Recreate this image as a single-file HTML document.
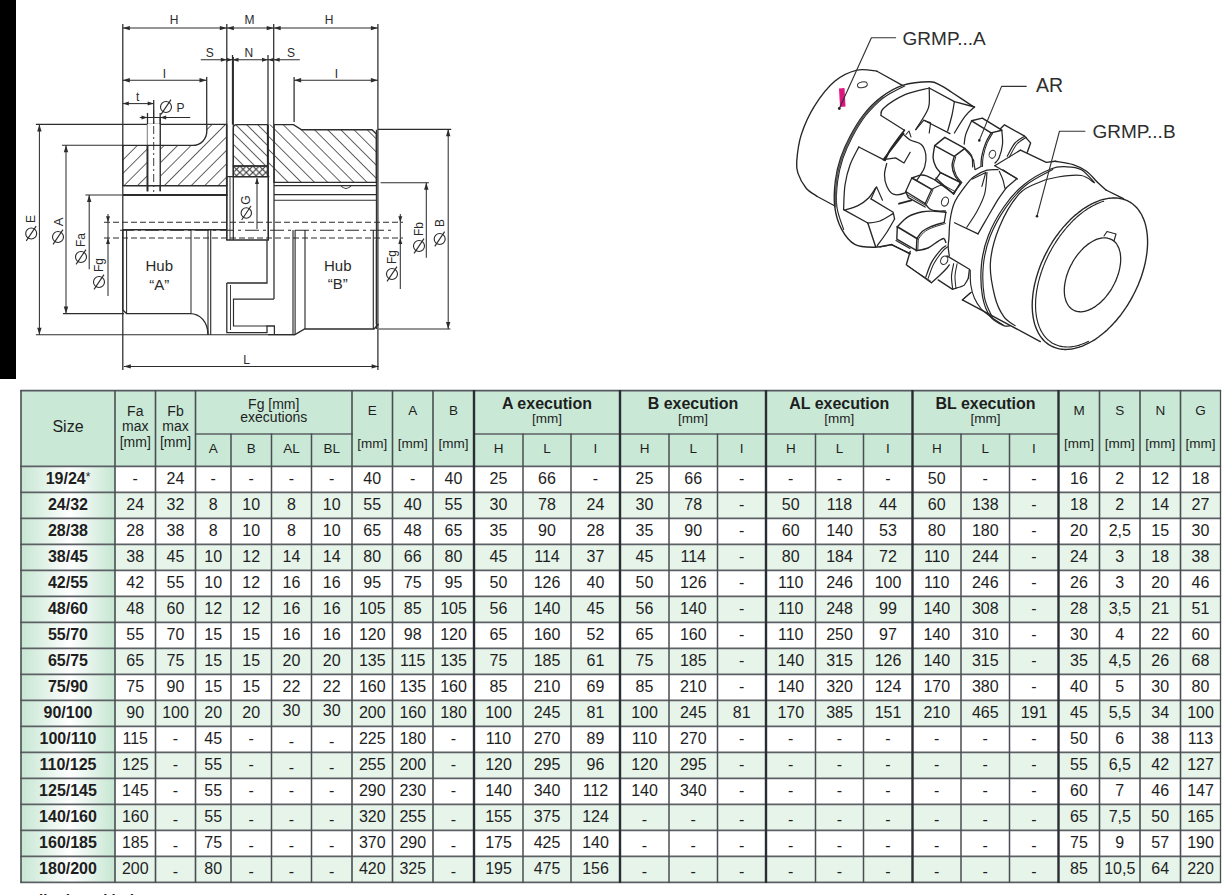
<!DOCTYPE html>
<html><head><meta charset="utf-8">
<style>
html,body{margin:0;padding:0;background:#fff;}
body{width:1230px;height:895px;position:relative;overflow:hidden;font-family:"Liberation Sans",sans-serif;color:#1e1e1e;}
.c,.l,.t,.b,.h,.hs,.h3,.h2,.hsub,.hmm,.hx{position:absolute;}
.t,.b{text-align:center;font-size:16px;white-space:nowrap;}
.b{font-weight:bold;}
.dash{display:inline-block;}
.ast{font-size:12px;position:relative;top:-3px;font-weight:normal;}
.low{position:relative;top:3px;}
.hs{text-align:center;font-size:16px;}
.h3{text-align:center;font-size:14px;line-height:15.7px;}
.h2{text-align:center;font-size:14px;line-height:13.5px;}
.hsub{text-align:center;font-size:13.5px;line-height:16px;}
.hmm{text-align:center;font-size:13.5px;line-height:16px;}
.hx{text-align:center;font-size:16px;line-height:14.5px;}
.hx .sm{font-size:13.5px;}
.blk{position:absolute;left:0;top:0;width:16px;height:379px;background:#000;}
svg{position:absolute;left:0;top:0;}
</style></head><body>
<div class="blk"></div>

<svg width="480" height="380" viewBox="0 0 480 380" style="position:absolute;left:0;top:0" font-family="Liberation Sans, sans-serif">
<defs>
<pattern id="hA" patternUnits="userSpaceOnUse" width="9.5" height="10" patternTransform="rotate(45)"><line x1="0" y1="0" x2="0" y2="10" stroke="#2a2a2a" stroke-width="1.45"/></pattern>
<pattern id="hB" patternUnits="userSpaceOnUse" width="9.3" height="10" patternTransform="rotate(-45)"><line x1="0" y1="0" x2="0" y2="10" stroke="#2a2a2a" stroke-width="1.45"/></pattern>
<pattern id="hS" patternUnits="userSpaceOnUse" width="7.8" height="10" patternTransform="rotate(-45)"><line x1="0" y1="0" x2="0" y2="10" stroke="#2a2a2a" stroke-width="1.45"/></pattern>
<pattern id="hX" patternUnits="userSpaceOnUse" width="6.5" height="6.5" x="233.3" y="166"><path d="M0,0 L6.5,6.5 M6.5,0 L0,6.5" stroke="#333" stroke-width="1.1"/></pattern>
</defs>
<line x1="122.8" y1="24" x2="122.8" y2="370" stroke="#2c2c2c" stroke-width="1.26" />
<line x1="226.8" y1="24" x2="226.8" y2="240" stroke="#2c2c2c" stroke-width="1.26" />
<line x1="273.7" y1="24" x2="273.7" y2="124.6" stroke="#2c2c2c" stroke-width="1.26" />
<line x1="377.9" y1="24" x2="377.9" y2="370" stroke="#2c2c2c" stroke-width="1.26" />
<line x1="122.8" y1="28.1" x2="377.9" y2="28.1" stroke="#2c2c2c" stroke-width="1.03" />
<polygon points="122.8,28.1 129.8,25.900000000000002 129.8,30.3" fill="#2c2c2c"/>
<polygon points="226.8,28.1 219.8,25.900000000000002 219.8,30.3" fill="#2c2c2c"/>
<polygon points="226.8,28.1 233.8,25.900000000000002 233.8,30.3" fill="#2c2c2c"/>
<polygon points="273.7,28.1 266.7,25.900000000000002 266.7,30.3" fill="#2c2c2c"/>
<polygon points="273.7,28.1 280.7,25.900000000000002 280.7,30.3" fill="#2c2c2c"/>
<polygon points="377.9,28.1 370.9,25.900000000000002 370.9,30.3" fill="#2c2c2c"/>
<text x="174" y="20" font-size="12" text-anchor="middle" dominant-baseline="central" fill="#2a2a2a" >H</text>
<text x="249.6" y="20" font-size="12" text-anchor="middle" dominant-baseline="central" fill="#2a2a2a" >M</text>
<text x="329" y="20" font-size="12" text-anchor="middle" dominant-baseline="central" fill="#2a2a2a" >H</text>
<line x1="200.8" y1="59.7" x2="299.8" y2="59.7" stroke="#2c2c2c" stroke-width="1.03" />
<line x1="232.5" y1="55" x2="232.5" y2="124.6" stroke="#2c2c2c" stroke-width="1.26" />
<line x1="268" y1="55" x2="268" y2="124.6" stroke="#2c2c2c" stroke-width="1.26" />
<polygon points="226.8,59.7 220.8,57.7 220.8,61.7" fill="#2c2c2c"/>
<polygon points="232.5,59.7 226.5,57.7 226.5,61.7" fill="#2c2c2c"/>
<polygon points="232.5,59.7 238.5,57.7 238.5,61.7" fill="#2c2c2c"/>
<polygon points="268,59.7 262,57.7 262,61.7" fill="#2c2c2c"/>
<polygon points="268,59.7 274,57.7 274,61.7" fill="#2c2c2c"/>
<polygon points="273.7,59.7 279.7,57.7 279.7,61.7" fill="#2c2c2c"/>
<text x="209.8" y="52.5" font-size="12" text-anchor="middle" dominant-baseline="central" fill="#2a2a2a" >S</text>
<text x="248.8" y="52.5" font-size="12" text-anchor="middle" dominant-baseline="central" fill="#2a2a2a" >N</text>
<text x="291" y="52.5" font-size="12" text-anchor="middle" dominant-baseline="central" fill="#2a2a2a" >S</text>
<line x1="122.8" y1="80.2" x2="206.5" y2="80.2" stroke="#2c2c2c" stroke-width="1.03" />
<line x1="206.7" y1="77" x2="206.7" y2="125" stroke="#2c2c2c" stroke-width="1.26" />
<polygon points="122.8,80.2 129.8,78.0 129.8,82.4" fill="#2c2c2c"/>
<polygon points="206.5,80.2 199.5,78.0 199.5,82.4" fill="#2c2c2c"/>
<line x1="294.1" y1="80.2" x2="377.9" y2="80.2" stroke="#2c2c2c" stroke-width="1.03" />
<line x1="294.1" y1="77" x2="294.1" y2="122" stroke="#2c2c2c" stroke-width="1.26" />
<polygon points="294.1,80.2 301.1,78.0 301.1,82.4" fill="#2c2c2c"/>
<polygon points="377.9,80.2 370.9,78.0 370.9,82.4" fill="#2c2c2c"/>
<text x="164.5" y="73.5" font-size="12" text-anchor="middle" dominant-baseline="central" fill="#2a2a2a" >I</text>
<text x="336.4" y="73.5" font-size="12" text-anchor="middle" dominant-baseline="central" fill="#2a2a2a" >I</text>
<line x1="122.8" y1="103.6" x2="153.7" y2="103.6" stroke="#2c2c2c" stroke-width="1.03" />
<line x1="153.7" y1="100" x2="153.7" y2="128" stroke="#2c2c2c" stroke-width="1.26" />
<polygon points="122.8,103.6 128.8,101.6 128.8,105.6" fill="#2c2c2c"/>
<polygon points="153.7,103.6 147.7,101.6 147.7,105.6" fill="#2c2c2c"/>
<text x="137.7" y="97" font-size="12" text-anchor="middle" dominant-baseline="central" fill="#2a2a2a" >t</text>
<line x1="139.8" y1="117.4" x2="190.2" y2="117.4" stroke="#2c2c2c" stroke-width="1.03" />
<line x1="147.5" y1="113" x2="147.5" y2="191.3" stroke="#2c2c2c" stroke-width="1.26" />
<line x1="160.2" y1="113" x2="160.2" y2="191.3" stroke="#2c2c2c" stroke-width="1.26" />
<polygon points="147.5,117.4 141.5,115.4 141.5,119.4" fill="#2c2c2c"/>
<polygon points="160.2,117.4 166.2,115.4 166.2,119.4" fill="#2c2c2c"/>
<g transform="rotate(0 166 107)"><circle cx="166" cy="107" r="5.5" fill="none" stroke="#2a2a2a" stroke-width="1.1"/><line x1="161.05" y1="114.425" x2="170.95" y2="99.575" stroke="#2a2a2a" stroke-width="1.1"/></g>
<text x="180.5" y="108" font-size="12" text-anchor="middle" dominant-baseline="central" fill="#2a2a2a" >P</text>
<line x1="35.9" y1="124.4" x2="206.8" y2="124.4" stroke="#2c2c2c" stroke-width="1.15" />
<line x1="35.9" y1="334.7" x2="295" y2="334.7" stroke="#2c2c2c" stroke-width="1.15" />
<line x1="39.4" y1="124.4" x2="39.4" y2="334.7" stroke="#2c2c2c" stroke-width="1.03" />
<polygon points="39.4,124.4 37.199999999999996,131.4 41.6,131.4" fill="#2c2c2c"/>
<polygon points="39.4,334.7 37.199999999999996,327.7 41.6,327.7" fill="#2c2c2c"/>
<line x1="62" y1="145.2" x2="123" y2="145.2" stroke="#2c2c2c" stroke-width="1.15" />
<line x1="63" y1="313.6" x2="124" y2="313.6" stroke="#2c2c2c" stroke-width="1.15" />
<line x1="66" y1="145.2" x2="66" y2="313.6" stroke="#2c2c2c" stroke-width="1.03" />
<polygon points="66,145.2 63.8,152.2 68.2,152.2" fill="#2c2c2c"/>
<polygon points="66,313.6 63.8,306.6 68.2,306.6" fill="#2c2c2c"/>
<line x1="85.4" y1="195" x2="122" y2="195" stroke="#2c2c2c" stroke-width="1.15" />
<line x1="89.2" y1="195" x2="89.2" y2="269.3" stroke="#2c2c2c" stroke-width="1.03" />
<polygon points="89.2,195 87.0,202 91.4,202" fill="#2c2c2c"/>
<line x1="108" y1="214" x2="108" y2="296" stroke="#2c2c2c" stroke-width="1.03" />
<polygon points="108,222.2 106,216.2 110,216.2" fill="#2c2c2c"/>
<polygon points="108,238 106,244 110,244" fill="#2c2c2c"/>
<g transform="rotate(0 31.2 233.5)"><circle cx="31.2" cy="233.5" r="5.5" fill="none" stroke="#2a2a2a" stroke-width="1.1"/><line x1="26.25" y1="240.925" x2="36.15" y2="226.075" stroke="#2a2a2a" stroke-width="1.1"/></g>
<text x="31.2" y="219" font-size="12" text-anchor="middle" dominant-baseline="central" fill="#2a2a2a" transform="rotate(-90 31.2 219)" >E</text>
<g transform="rotate(0 58 237)"><circle cx="58" cy="237" r="5.5" fill="none" stroke="#2a2a2a" stroke-width="1.1"/><line x1="53.05" y1="244.425" x2="62.95" y2="229.575" stroke="#2a2a2a" stroke-width="1.1"/></g>
<text x="58" y="222" font-size="13" text-anchor="middle" dominant-baseline="central" fill="#2a2a2a" transform="rotate(-90 58 222)" >A</text>
<g transform="rotate(0 81 257)"><circle cx="81" cy="257" r="5.5" fill="none" stroke="#2a2a2a" stroke-width="1.1"/><line x1="76.05" y1="264.425" x2="85.95" y2="249.575" stroke="#2a2a2a" stroke-width="1.1"/></g>
<text x="80.5" y="240" font-size="12" text-anchor="middle" dominant-baseline="central" fill="#2a2a2a" transform="rotate(-90 80.5 240)" >Fa</text>
<g transform="rotate(0 99 282)"><circle cx="99" cy="282" r="5.5" fill="none" stroke="#2a2a2a" stroke-width="1.1"/><line x1="94.05" y1="289.425" x2="103.95" y2="274.575" stroke="#2a2a2a" stroke-width="1.1"/></g>
<text x="99" y="265" font-size="12" text-anchor="middle" dominant-baseline="central" fill="#2a2a2a" transform="rotate(-90 99 265)" >Fg</text>
<line x1="378" y1="129.3" x2="451.2" y2="129.3" stroke="#2c2c2c" stroke-width="1.15" />
<line x1="378.6" y1="329" x2="450.5" y2="329" stroke="#2c2c2c" stroke-width="1.15" />
<line x1="448.2" y1="129.3" x2="448.2" y2="329" stroke="#2c2c2c" stroke-width="1.03" />
<polygon points="448.2,129.3 446.0,136.3 450.4,136.3" fill="#2c2c2c"/>
<polygon points="448.2,329 446.0,322 450.4,322" fill="#2c2c2c"/>
<line x1="380.6" y1="182.7" x2="428.9" y2="182.7" stroke="#2c2c2c" stroke-width="1.15" />
<line x1="426.3" y1="182.7" x2="426.3" y2="257.8" stroke="#2c2c2c" stroke-width="1.03" />
<polygon points="426.3,182.7 424.1,189.7 428.5,189.7" fill="#2c2c2c"/>
<line x1="400.3" y1="214" x2="400.3" y2="289" stroke="#2c2c2c" stroke-width="1.03" />
<polygon points="400.3,222.2 398.3,216.2 402.3,216.2" fill="#2c2c2c"/>
<polygon points="400.3,238 398.3,244 402.3,244" fill="#2c2c2c"/>
<g transform="rotate(0 439.7 239)"><circle cx="439.7" cy="239" r="5.5" fill="none" stroke="#2a2a2a" stroke-width="1.1"/><line x1="434.75" y1="246.425" x2="444.65" y2="231.575" stroke="#2a2a2a" stroke-width="1.1"/></g>
<text x="439.7" y="223" font-size="12" text-anchor="middle" dominant-baseline="central" fill="#2a2a2a" transform="rotate(-90 439.7 223)" >B</text>
<g transform="rotate(0 419 246)"><circle cx="419" cy="246" r="5.5" fill="none" stroke="#2a2a2a" stroke-width="1.1"/><line x1="414.05" y1="253.425" x2="423.95" y2="238.575" stroke="#2a2a2a" stroke-width="1.1"/></g>
<text x="419" y="229" font-size="12" text-anchor="middle" dominant-baseline="central" fill="#2a2a2a" transform="rotate(-90 419 229)" >Fb</text>
<g transform="rotate(0 392 274)"><circle cx="392" cy="274" r="5.5" fill="none" stroke="#2a2a2a" stroke-width="1.1"/><line x1="387.05" y1="281.425" x2="396.95" y2="266.575" stroke="#2a2a2a" stroke-width="1.1"/></g>
<text x="392" y="257" font-size="12" text-anchor="middle" dominant-baseline="central" fill="#2a2a2a" transform="rotate(-90 392 257)" >Fg</text>
<line x1="123.8" y1="366.4" x2="378.6" y2="366.4" stroke="#2c2c2c" stroke-width="1.03" />
<polygon points="123.8,366.4 130.8,364.2 130.8,368.59999999999997" fill="#2c2c2c"/>
<polygon points="378.6,366.4 371.6,364.2 371.6,368.59999999999997" fill="#2c2c2c"/>
<text x="246.5" y="359.5" font-size="12" text-anchor="middle" dominant-baseline="central" fill="#2a2a2a" >L</text>
<path d="M122.8,145.4 L192.5,145.4 C201,145.4 206.8,139 206.8,131 L206.8,124.4 L226.6,124.4 L226.6,185.7 L122.8,185.7 Z" fill="url(#hA)" stroke="none"/>
<rect x="147.5" y="124" width="12.7" height="62" fill="#fff"/>
<path d="M122.8,145.4 L192.5,145.4 C201,145.4 206.8,139 206.8,131 L206.8,124.4 L226.6,124.4 L226.6,185.7 L122.8,185.7 Z" stroke="#2c2c2c" stroke-width="1.38" fill="none" />
<line x1="147.5" y1="145" x2="147.5" y2="191.3" stroke="#2c2c2c" stroke-width="1.84" />
<line x1="160.2" y1="117" x2="160.2" y2="191.3" stroke="#2c2c2c" stroke-width="1.26" />
<line x1="153.7" y1="110" x2="153.7" y2="192" stroke="#2c2c2c" stroke-width="0.92" stroke-dasharray="8,3,2,3"/>
<line x1="122.8" y1="195" x2="227.5" y2="195" stroke="#2c2c2c" stroke-width="2.07" />
<line x1="122.8" y1="229.7" x2="226.8" y2="229.7" stroke="#2c2c2c" stroke-width="1.49" />
<line x1="226.6" y1="124" x2="226.6" y2="195" stroke="#2c2c2c" stroke-width="1.26" />
<path d="M233.3,128 Q233.3,124.6 237,124.6 L267.5,124.6 L267.5,166 L233.3,166 Z" fill="url(#hS)" stroke="none"/>
<path d="M233.3,128 Q233.3,124.6 237,124.6 L267.5,124.6 L267.5,166 L233.3,166 Z" stroke="#2c2c2c" stroke-width="1.26" fill="none" />
<rect x="233.3" y="166" width="34.2" height="10.7" fill="url(#hX)" stroke="#333" stroke-width="1.4"/>
<path d="M226.8,176.7 L233.3,176.7 L233.3,176.7 L268.3,176.7 L268.3,240 L226.8,240 Z" stroke="#2c2c2c" stroke-width="1.26" fill="none" />
<line x1="233.3" y1="57" x2="233.3" y2="240" stroke="#2c2c2c" stroke-width="1.26" />
<line x1="230" y1="176.7" x2="230" y2="240" stroke="#2c2c2c" stroke-width="0.92" />
<line x1="257" y1="178" x2="257" y2="229" stroke="#2c2c2c" stroke-width="1.03" />
<polygon points="257,178 255,184 259,184" fill="#2c2c2c"/>
<g transform="rotate(0 246.3 213)"><circle cx="246.3" cy="213" r="5.2" fill="none" stroke="#2a2a2a" stroke-width="1.1"/><line x1="241.62" y1="220.02" x2="250.98000000000002" y2="205.98" stroke="#2a2a2a" stroke-width="1.1"/></g>
<text x="246.3" y="200" font-size="12" text-anchor="middle" dominant-baseline="central" fill="#2a2a2a" transform="rotate(-90 246.3 200)" >G</text>
<path d="M274,124.6 L293.5,124.6 L301.6,129.8 L372,129.8 L376.4,134 L376.4,182.4 L274,182.4 Z" fill="url(#hB)" stroke="none"/>
<path d="M274,124.6 L293.5,124.6 L301.6,129.8 L372,129.8 L376.4,134 L376.4,182.4 L274,182.4 Z" stroke="#2c2c2c" stroke-width="1.38" fill="none" />
<rect x="267.5" y="124.6" width="6.5" height="52" fill="url(#hB)"/>
<line x1="268.3" y1="124.6" x2="268.3" y2="240" stroke="#2c2c2c" stroke-width="1.26" />
<line x1="274" y1="124.6" x2="274" y2="299.1" stroke="#2c2c2c" stroke-width="1.26" />
<line x1="274" y1="185.6" x2="376.4" y2="185.6" stroke="#2c2c2c" stroke-width="1.15" />
<line x1="274" y1="194.6" x2="376.4" y2="194.6" stroke="#2c2c2c" stroke-width="1.15" />
<line x1="274" y1="200.2" x2="376.4" y2="200.2" stroke="#2c2c2c" stroke-width="1.15" />
<path d="M341,186 Q346,191 351,186" stroke="#2c2c2c" stroke-width="1.03" fill="none" />
<line x1="376.4" y1="129.8" x2="376.4" y2="329" stroke="#2c2c2c" stroke-width="1.15" />
<line x1="104" y1="222.2" x2="403" y2="222.2" stroke="#2c2c2c" stroke-width="1.15" stroke-dasharray="6,3"/>
<line x1="104" y1="238" x2="403" y2="238" stroke="#2c2c2c" stroke-width="1.15" stroke-dasharray="6,3"/>
<line x1="120" y1="230.3" x2="395" y2="230.3" stroke="#2c2c2c" stroke-width="1.03" stroke-dasharray="14,4,3,4"/>
<path d="M122.8,229.7 L122.8,310 L126.6,313.6 L190.2,313.6 C200,313.6 208,322 208,334.7" stroke="#2c2c2c" stroke-width="1.38" fill="none" />
<line x1="126.6" y1="230" x2="126.6" y2="313.6" stroke="#2c2c2c" stroke-width="1.03" />
<line x1="191" y1="230" x2="191" y2="313.6" stroke="#2c2c2c" stroke-width="1.03" />
<line x1="208" y1="230" x2="208" y2="334.7" stroke="#2c2c2c" stroke-width="1.15" />
<line x1="210.7" y1="230" x2="210.7" y2="334.7" stroke="#2c2c2c" stroke-width="1.15" />
<path d="M226.8,283 L267,283 L267,240" stroke="#2c2c2c" stroke-width="1.26" fill="none" />
<path d="M226.8,283 L226.8,332.6 L267,332.6 L267,326 L274.4,326 L274.4,334.6" stroke="#2c2c2c" stroke-width="1.26" fill="none" />
<path d="M232.9,299.1 L274,299.1" stroke="#2c2c2c" stroke-width="1.26" fill="none" />
<path d="M233.5,299.1 L233.5,326 L267,326" stroke="#2c2c2c" stroke-width="1.15" fill="none" />
<line x1="230.5" y1="285" x2="230.5" y2="330" stroke="#2c2c2c" stroke-width="0.92" />
<line x1="293" y1="230" x2="293" y2="334.6" stroke="#2c2c2c" stroke-width="1.15" />
<line x1="295.1" y1="230" x2="295.1" y2="334.6" stroke="#2c2c2c" stroke-width="1.15" />
<line x1="305" y1="230" x2="305" y2="329" stroke="#2c2c2c" stroke-width="1.15" />
<line x1="373.3" y1="230" x2="373.3" y2="329" stroke="#2c2c2c" stroke-width="1.15" />
<path d="M268,334.6 L295,334.6 L304.6,329 L374,329 L378.6,324" stroke="#2c2c2c" stroke-width="1.38" fill="none" />
<line x1="376.4" y1="240" x2="376.4" y2="324" stroke="#2c2c2c" stroke-width="1.15" />
<text x="159.3" y="265" font-size="15" text-anchor="middle" dominant-baseline="central" fill="#2a2a2a" >Hub</text>
<text x="159.3" y="284.5" font-size="15" text-anchor="middle" dominant-baseline="central" fill="#2a2a2a" >“A”</text>
<text x="337.8" y="265" font-size="15" text-anchor="middle" dominant-baseline="central" fill="#2a2a2a" >Hub</text>
<text x="337.8" y="283" font-size="15" text-anchor="middle" dominant-baseline="central" fill="#2a2a2a" >“B”</text>
</svg>
<svg width="1230" height="380" viewBox="0 0 1230 380" style="position:absolute;left:0;top:0" font-family="Liberation Sans, sans-serif">
<path d="M902.4,85.4 L877.0,71.2" stroke="#262626" stroke-width="1.26" fill="none" stroke-linejoin="round" stroke-linecap="round"/>
<path d="M877.0,71.2 C873.7,71.0 864.0,68.4 857.0,70.1 C850.0,71.8 841.8,75.3 834.7,81.3 C827.6,87.3 820.2,97.0 814.6,105.9 C809.0,114.8 804.2,125.6 801.2,134.9 C798.2,144.2 797.2,155.3 796.7,161.7 C796.2,168.1 796.5,169.0 798.0,173.4 C799.5,177.8 802.9,184.2 806.0,188.0 C809.1,191.8 815.0,194.8 816.8,196.2" stroke="#262626" stroke-width="1.38" fill="none" stroke-linejoin="round" stroke-linecap="round" />
<path d="M816.8,196.2 L834.5,205.8" stroke="#262626" stroke-width="1.26" fill="none" stroke-linejoin="round" stroke-linecap="round"/>
<ellipse cx="862.4" cy="84.8" rx="5" ry="2.8" transform="rotate(-12 862.4 84.8)" fill="none" stroke="#333" stroke-width="1"/>
<path d="M839.0,88.5 L844.5,88.0 L845.5,106.5 L840.0,107.0 Z" stroke="none" stroke-width="0.00" fill="#e0157f" stroke-linejoin="round" stroke-linecap="round"/>
<path d="M839.3,108.5 L871.4,37.7 L895.6,37.7" stroke="#333" stroke-width="1.15" fill="none" stroke-linejoin="round" stroke-linecap="round"/>
<circle cx="839.3" cy="108.5" r="1.4" fill="#222"/>
<text x="902.6" y="45" font-size="19" fill="#2e2e2e">GRMP...A</text>
<path d="M973.7,106.9 C970.1,104.5 957.5,96.1 952.0,92.5 C946.5,88.9 944.4,87.2 940.6,85.4 C936.9,83.6 935.9,81.7 929.5,81.7 C923.1,81.7 910.5,82.8 902.4,85.4 C894.3,88.0 887.5,92.5 881.0,97.4 C874.5,102.3 868.6,108.4 863.5,114.9 C858.4,121.4 853.9,129.2 850.1,136.3 C846.3,143.5 843.2,150.4 840.7,157.8 C838.2,165.2 836.4,172.5 835.4,180.6 C834.4,188.7 833.7,198.4 834.7,206.4 C835.7,214.4 838.0,222.5 841.4,228.8 C844.8,235.1 849.3,241.3 854.8,244.4 C860.3,247.5 868.3,247.2 874.5,247.2 C880.7,247.2 889.0,244.9 891.9,244.5" stroke="#262626" stroke-width="1.38" fill="none" stroke-linejoin="round" stroke-linecap="round" />
<path d="M904.6,86.0 C901.0,88.0 889.7,93.1 883.2,98.0 C876.7,102.9 870.9,109.0 865.7,115.5 C860.6,122.0 856.1,129.8 852.3,136.9 C848.5,144.1 845.4,151.0 842.9,158.4 C840.5,165.8 838.6,173.1 837.6,181.2 C836.6,189.3 835.9,199.0 836.9,207.0 C837.9,215.0 842.5,225.7 843.6,229.4" stroke="#262626" stroke-width="1.15" fill="none" stroke-linejoin="round" stroke-linecap="round" />
<path d="M882.1,97.7 C879.2,100.6 869.8,108.7 864.6,115.2 C859.5,121.7 855.0,129.5 851.2,136.6 C847.4,143.8 844.3,150.7 841.8,158.1 C839.4,165.5 837.5,172.8 836.5,180.9 C835.5,189.0 835.9,202.4 835.8,206.7" stroke="#555" stroke-width="1.84" fill="none" stroke-linejoin="round" stroke-linecap="round" stroke-dasharray="1,1"/>
<path d="M929.2,88.0 C925.2,89.1 912.6,91.3 905.0,94.7 C897.4,98.1 887.6,104.7 883.6,108.2 C879.6,111.7 881.4,114.3 881.0,115.5" stroke="#262626" stroke-width="1.26" fill="none" stroke-linejoin="round" stroke-linecap="round" />
<path d="M881.0,115.5 L904.4,130.3" stroke="#262626" stroke-width="1.26" fill="none" stroke-linejoin="round" stroke-linecap="round"/>
<path d="M904.4,130.3 C903.2,131.9 899.4,136.7 897.0,140.0 C894.6,143.3 892.0,146.6 890.0,150.0 C888.0,153.4 885.8,158.7 885.0,160.4" stroke="#262626" stroke-width="1.72" fill="none" stroke-linejoin="round" stroke-linecap="round" />
<path d="M858.8,147.0 L885.0,160.4" stroke="#262626" stroke-width="1.26" fill="none" stroke-linejoin="round" stroke-linecap="round"/>
<path d="M858.8,147.0 C857.3,150.0 852.3,158.7 850.0,165.0 C847.7,171.3 846.1,177.6 845.0,185.0 C843.9,192.4 843.8,205.5 843.6,209.6" stroke="#262626" stroke-width="1.26" fill="none" stroke-linejoin="round" stroke-linecap="round" />
<path d="M929.2,88.0 C929.2,90.7 929.7,100.1 929.2,104.1 C928.8,108.1 928.7,108.0 926.5,112.2 C924.3,116.5 917.6,126.7 915.8,129.6" stroke="#262626" stroke-width="1.26" fill="none" stroke-linejoin="round" stroke-linecap="round" />
<path d="M915.8,129.6 L923.9,120.2 L930.6,122.9 L929.2,133.0" stroke="#262626" stroke-width="1.15" fill="none" stroke-linejoin="round" stroke-linecap="round"/>
<path d="M923.9,120.2 L950.0,133.6" stroke="#262626" stroke-width="1.26" fill="none" stroke-linejoin="round" stroke-linecap="round"/>
<path d="M929.2,88.0 L954.4,101.6 L974.5,107.0" stroke="#262626" stroke-width="1.38" fill="none" stroke-linejoin="round" stroke-linecap="round"/>
<path d="M954.4,101.6 C954.0,103.8 953.1,110.1 952.0,115.0 C950.9,119.9 948.4,128.3 947.7,131.0" stroke="#262626" stroke-width="1.26" fill="none" stroke-linejoin="round" stroke-linecap="round" />
<path d="M974.5,107.0 C972.9,108.5 968.4,112.0 965.0,116.3 C961.6,120.6 956.2,130.2 954.4,133.0" stroke="#262626" stroke-width="1.26" fill="none" stroke-linejoin="round" stroke-linecap="round" />
<path d="M871.0,198.9 L876.5,186.8 L882.5,200.2" stroke="#262626" stroke-width="1.15" fill="none" stroke-linejoin="round" stroke-linecap="round"/>
<path d="M843.6,209.6 L867.8,223.0" stroke="#262626" stroke-width="1.38" fill="none" stroke-linejoin="round" stroke-linecap="round"/>
<path d="M867.8,223.0 C869.8,222.7 875.8,222.6 880.0,221.0 C884.2,219.4 891.0,214.8 893.2,213.6" stroke="#262626" stroke-width="1.26" fill="none" stroke-linejoin="round" stroke-linecap="round" />
<path d="M871.0,198.9 L893.2,212.3 L894.6,219.0" stroke="#262626" stroke-width="1.26" fill="none" stroke-linejoin="round" stroke-linecap="round"/>
<path d="M867.8,223.0 L875.8,247.2" stroke="#262626" stroke-width="1.38" fill="none" stroke-linejoin="round" stroke-linecap="round"/>
<path d="M894.6,219.0 C893.3,221.2 889.9,227.5 887.0,232.0 C884.1,236.5 878.8,243.5 877.2,245.8" stroke="#262626" stroke-width="1.26" fill="none" stroke-linejoin="round" stroke-linecap="round" />
<path d="M891.9,244.5 L910.0,253.9" stroke="#262626" stroke-width="1.26" fill="none" stroke-linejoin="round" stroke-linecap="round"/>
<path d="M896.0,240.5 L910.0,248.5" stroke="#262626" stroke-width="1.15" fill="none" stroke-linejoin="round" stroke-linecap="round"/>
<path d="M903.5,134.5 C904.6,135.4 907.2,138.3 910.2,140.0 C913.2,141.7 918.7,142.1 921.3,144.5 C923.9,146.9 925.2,150.9 925.8,154.6 C926.4,158.3 925.8,163.2 924.7,166.9 C923.6,170.6 921.2,173.7 919.1,176.9 C917.0,180.1 914.2,183.4 912.0,186.0 C909.8,188.6 908.8,191.2 905.7,192.6 C902.6,194.0 896.6,195.3 893.4,194.2 C890.2,193.1 888.2,189.2 886.7,185.9 C885.2,182.7 884.5,178.4 884.5,174.7 C884.5,171.0 886.3,165.4 886.7,163.5" stroke="#262626" stroke-width="1.26" fill="none" stroke-linejoin="round" stroke-linecap="round" />
<path d="M910.2,152.3 L904.0,163.0 L895.6,157.9 L883.4,159.6" stroke="#262626" stroke-width="1.26" fill="none" stroke-linejoin="round" stroke-linecap="round"/>
<path d="M903.5,133.4 C902.4,134.8 899.2,139.1 897.0,142.0 C894.8,144.9 892.3,148.1 890.0,151.0 C887.7,153.9 884.5,158.2 883.4,159.6" stroke="#262626" stroke-width="1.84" fill="none" stroke-linejoin="round" stroke-linecap="round" />
<path d="M906.0,134.5 L909.0,131.0 L911.0,137.0" stroke="#262626" stroke-width="1.03" fill="none" stroke-linejoin="round" stroke-linecap="round"/>
<path d="M935.2,180.1 L940.6,172.7 L961.4,182.8 L953.3,193.5 Z" stroke="#262626" stroke-width="1.38" fill="#fff" stroke-linejoin="round" stroke-linecap="round"/>
<path d="M937.0,181.5 L955.0,191.5" stroke="#262626" stroke-width="0.92" fill="none" stroke-linejoin="round" stroke-linecap="round"/>
<path d="M911.8,178.1 C913.2,177.6 918.0,175.5 920.5,175.1 C923.0,174.7 924.0,175.0 926.5,175.8 C929.0,176.6 933.8,179.4 935.2,180.1" stroke="#262626" stroke-width="1.38" fill="none" stroke-linejoin="round" stroke-linecap="round" />
<path d="M931.6,189.5 C932.6,188.9 936.1,187.0 937.9,186.2 C939.7,185.4 941.7,185.0 942.5,184.8" stroke="#262626" stroke-width="1.03" fill="none" stroke-linejoin="round" stroke-linecap="round" />
<path d="M911.8,178.1 L931.6,189.5" stroke="#262626" stroke-width="1.84" fill="none" stroke-linejoin="round" stroke-linecap="round"/>
<path d="M911.8,178.1 L931.6,189.5 L925.2,203.6 L905.7,191.5 Z" fill="#fff" stroke="#262626" stroke-width="1.3" stroke-linejoin="round"/>
<path d="M933.0,190.0 L926.6,204.0" stroke="#262626" stroke-width="0.92" fill="none" stroke-linejoin="round" stroke-linecap="round"/>
<path d="M925.2,203.6 C926.0,204.5 928.0,207.8 929.9,209.0 C931.8,210.2 934.0,210.7 936.6,211.0 C939.2,211.3 943.8,211.0 945.3,211.0" stroke="#262626" stroke-width="1.38" fill="none" stroke-linejoin="round" stroke-linecap="round" />
<path d="M905.7,191.5 L908.4,197.6 L925.2,207.0" stroke="#262626" stroke-width="1.38" fill="none" stroke-linejoin="round" stroke-linecap="round"/>
<path d="M908.0,195.0 L925.5,205.3" stroke="#262626" stroke-width="0.92" fill="none" stroke-linejoin="round" stroke-linecap="round"/>
<ellipse cx="945" cy="201.6" rx="3.4" ry="4.6" transform="rotate(20 945 201.6)" fill="none" stroke="#333" stroke-width="1.1"/>
<path d="M844.9,210.0 C847.1,209.3 854.1,207.5 858.0,205.6 C861.9,203.7 865.4,201.2 868.3,198.3 C871.2,195.4 874.4,189.7 875.6,188.0" stroke="#262626" stroke-width="1.38" fill="none" stroke-linejoin="round" stroke-linecap="round" />
<path d="M934.7,145.6 L944.8,137.3 L964.9,148.4 L954.3,156.3 Z" stroke="#262626" stroke-width="1.49" fill="#fff" stroke-linejoin="round" stroke-linecap="round"/>
<path d="M934.7,145.6 C934.4,147.7 932.9,154.3 933.1,157.9 C933.3,161.5 934.7,164.5 935.9,166.9 C937.1,169.3 939.6,171.6 940.3,172.5" stroke="#262626" stroke-width="1.38" fill="none" stroke-linejoin="round" stroke-linecap="round" />
<path d="M954.3,156.3 C953.9,157.9 952.0,162.6 952.1,165.8 C952.2,169.1 953.5,173.0 954.9,175.8 C956.3,178.6 959.5,181.4 960.4,182.5" stroke="#262626" stroke-width="1.38" fill="none" stroke-linejoin="round" stroke-linecap="round" />
<path d="M955.8,156.8 C955.4,158.3 953.5,162.6 953.6,165.8 C953.7,169.0 955.0,173.0 956.4,175.8 C957.8,178.6 961.0,181.4 961.9,182.5" stroke="#262626" stroke-width="1.03" fill="none" stroke-linejoin="round" stroke-linecap="round" />
<path d="M964.9,148.4 C966.0,149.6 970.3,152.6 971.6,155.7 C972.9,158.8 972.5,165.0 972.7,166.9" stroke="#262626" stroke-width="1.26" fill="none" stroke-linejoin="round" stroke-linecap="round" />
<path d="M940.3,172.5 L960.4,182.5 L953.7,194.2" stroke="#262626" stroke-width="1.38" fill="none" stroke-linejoin="round" stroke-linecap="round"/>
<path d="M935.9,178.0 L953.7,194.2" stroke="#262626" stroke-width="1.15" fill="none" stroke-linejoin="round" stroke-linecap="round"/>
<path d="M899.0,203.7 L911.3,200.4" stroke="#262626" stroke-width="1.84" fill="none" stroke-linejoin="round" stroke-linecap="round"/>
<path d="M971.6,120.8 L982.3,118.1 L1001.8,130.2 L991.1,132.9 Z" stroke="#262626" stroke-width="1.49" fill="#fff" stroke-linejoin="round" stroke-linecap="round"/>
<path d="M971.6,120.8 C970.6,123.2 966.8,131.0 965.6,134.9 C964.4,138.8 964.4,142.6 964.2,144.2" stroke="#262626" stroke-width="1.26" fill="none" stroke-linejoin="round" stroke-linecap="round" />
<path d="M991.1,132.9 C990.2,134.6 987.3,139.0 985.7,142.9 C984.1,146.8 982.5,152.4 981.7,156.3 C980.9,160.2 981.1,164.7 981.0,166.4" stroke="#262626" stroke-width="1.26" fill="none" stroke-linejoin="round" stroke-linecap="round" />
<path d="M992.6,133.2 C991.7,134.8 988.8,139.1 987.2,142.9 C985.6,146.8 984.0,152.4 983.2,156.3 C982.4,160.2 982.6,164.7 982.5,166.4" stroke="#262626" stroke-width="1.03" fill="none" stroke-linejoin="round" stroke-linecap="round" />
<path d="M1001.8,130.2 C1001.9,132.5 1003.0,139.6 1002.5,144.2 C1002.0,148.8 1000.4,154.6 999.1,157.7 C997.9,160.8 995.7,162.1 995.0,163.0" stroke="#262626" stroke-width="1.26" fill="none" stroke-linejoin="round" stroke-linecap="round" />
<path d="M973.6,160.3 L975.0,169.7 L981.0,166.4" stroke="#262626" stroke-width="1.15" fill="none" stroke-linejoin="round" stroke-linecap="round"/>
<path d="M964.2,148.3 C965.2,149.4 968.4,153.0 970.0,155.0 C971.6,157.0 973.0,159.4 973.6,160.3" stroke="#262626" stroke-width="1.15" fill="none" stroke-linejoin="round" stroke-linecap="round" />
<ellipse cx="992.4" cy="154.3" rx="3.2" ry="4" transform="rotate(20 992.4 154.3)" fill="none" stroke="#333" stroke-width="1"/>
<path d="M1000.4,128.8 L1004.5,124.8 L1024.6,136.2 L1030.6,142.9 L1027.3,152.3" stroke="#262626" stroke-width="1.38" fill="none" stroke-linejoin="round" stroke-linecap="round"/>
<path d="M1024.6,136.2 C1023.0,137.3 1017.9,139.7 1015.0,143.0 C1012.1,146.3 1008.5,154.1 1007.2,156.3" stroke="#262626" stroke-width="1.15" fill="none" stroke-linejoin="round" stroke-linecap="round" />
<path d="M1026.4,137.2 C1024.8,138.3 1019.9,140.7 1017.0,144.0 C1014.1,147.3 1010.5,155.1 1009.2,157.3" stroke="#262626" stroke-width="1.03" fill="none" stroke-linejoin="round" stroke-linecap="round" />
<path d="M897.3,226.8 C899.1,225.1 903.7,219.3 907.9,216.8 C912.1,214.3 918.0,212.6 922.5,211.7 C927.0,210.8 930.8,211.1 934.7,211.2 C938.6,211.3 944.0,212.1 945.9,212.3" stroke="#262626" stroke-width="1.38" fill="none" stroke-linejoin="round" stroke-linecap="round" />
<path d="M945.9,212.3 L944.2,222.3" stroke="#262626" stroke-width="1.26" fill="none" stroke-linejoin="round" stroke-linecap="round"/>
<path d="M944.2,222.3 C941.9,223.1 933.9,225.3 930.3,226.8 C926.7,228.3 924.7,229.4 922.5,231.3 C920.3,233.2 917.8,237.3 916.9,238.5" stroke="#262626" stroke-width="1.38" fill="none" stroke-linejoin="round" stroke-linecap="round" />
<path d="M945.4,223.5 C943.1,224.2 935.1,226.5 931.5,228.0 C927.9,229.5 925.9,230.6 923.7,232.5 C921.5,234.4 919.0,238.3 918.1,239.5" stroke="#262626" stroke-width="0.92" fill="none" stroke-linejoin="round" stroke-linecap="round" />
<path d="M897.3,226.8 L916.9,238.5" stroke="#262626" stroke-width="1.72" fill="none" stroke-linejoin="round" stroke-linecap="round"/>
<path d="M897.3,226.8 L896.8,239.1 L916.3,250.3 L916.9,238.5" stroke="#262626" stroke-width="1.38" fill="none" stroke-linejoin="round" stroke-linecap="round"/>
<path d="M918.3,239.0 L917.8,250.3" stroke="#262626" stroke-width="0.92" fill="none" stroke-linejoin="round" stroke-linecap="round"/>
<path d="M916.3,250.8 C918.2,250.3 924.4,249.6 928.0,248.0 C931.6,246.4 935.5,242.9 938.1,241.3 C940.7,239.7 942.4,238.3 943.7,238.5 C945.0,238.7 945.5,241.8 945.9,242.5" stroke="#262626" stroke-width="1.38" fill="none" stroke-linejoin="round" stroke-linecap="round" />
<path d="M891.2,244.7 L910.2,253.6" stroke="#262626" stroke-width="1.26" fill="none" stroke-linejoin="round" stroke-linecap="round"/>
<path d="M880.0,247.0 L891.2,244.7" stroke="#262626" stroke-width="1.15" fill="none" stroke-linejoin="round" stroke-linecap="round"/>
<path d="M910.2,251.4 L906.3,264.8 L931.4,282.7" stroke="#262626" stroke-width="1.38" fill="none" stroke-linejoin="round" stroke-linecap="round"/>
<path d="M907.5,266.0 L930.5,281.0" stroke="#262626" stroke-width="0.92" fill="none" stroke-linejoin="round" stroke-linecap="round"/>
<path d="M925.8,277.1 C926.7,274.7 929.0,267.1 931.4,262.6 C933.8,258.1 937.9,253.1 940.3,250.3 C942.7,247.5 945.0,246.6 945.9,245.8" stroke="#262626" stroke-width="1.26" fill="none" stroke-linejoin="round" stroke-linecap="round" />
<path d="M928.2,278.2 C929.1,275.8 931.4,268.2 933.8,263.7 C936.2,259.2 940.2,254.1 942.5,251.3 C944.8,248.5 946.9,247.6 947.8,246.8" stroke="#262626" stroke-width="1.03" fill="none" stroke-linejoin="round" stroke-linecap="round" />
<path d="M931.4,282.7 C932.7,281.6 936.4,278.4 939.0,276.0 C941.6,273.6 945.3,269.9 947.0,268.0 C948.7,266.1 948.9,265.3 949.3,264.8" stroke="#262626" stroke-width="1.26" fill="none" stroke-linejoin="round" stroke-linecap="round" />
<ellipse cx="944.2" cy="260.3" rx="3.4" ry="4.4" transform="rotate(25 944.2 260.3)" fill="#fff" stroke="#333" stroke-width="1.1"/>
<path d="M947.0,255.9 L969.4,269.3 L968.3,278.2" stroke="#262626" stroke-width="1.26" fill="none" stroke-linejoin="round" stroke-linecap="round"/>
<path d="M968.3,278.2 C967.8,279.2 965.9,282.7 965.0,284.0 C964.1,285.3 964.8,285.1 962.7,286.0 C960.6,286.9 954.3,288.8 952.6,289.4" stroke="#262626" stroke-width="1.26" fill="none" stroke-linejoin="round" stroke-linecap="round" />
<path d="M952.6,289.4 L938.1,279.9" stroke="#262626" stroke-width="1.26" fill="none" stroke-linejoin="round" stroke-linecap="round"/>
<path d="M953.7,263.7 C953.3,265.8 951.7,271.9 951.5,276.0 C951.3,280.1 952.4,286.2 952.6,288.3" stroke="#262626" stroke-width="1.15" fill="none" stroke-linejoin="round" stroke-linecap="round" />
<path d="M957.1,263.7 C956.8,265.8 955.2,271.9 955.0,276.0 C954.8,280.1 955.8,286.2 956.0,288.3" stroke="#262626" stroke-width="1.03" fill="none" stroke-linejoin="round" stroke-linecap="round" />
<path d="M949.3,255.9 C949.1,254.4 948.3,249.9 948.2,247.0 C948.1,244.1 948.6,242.9 948.9,238.4 C949.2,233.9 949.2,226.0 950.1,220.0 C951.0,214.0 952.1,208.1 954.5,202.6 C956.9,197.1 961.4,191.3 964.6,187.0 C967.8,182.7 969.8,179.7 973.5,176.9 C977.2,174.1 982.9,171.4 987.0,170.2 C991.1,169.0 996.2,169.7 998.1,169.6" stroke="#262626" stroke-width="1.26" fill="none" stroke-linejoin="round" stroke-linecap="round" />
<path d="M954.5,222.7 L978.0,233.9" stroke="#262626" stroke-width="1.26" fill="none" stroke-linejoin="round" stroke-linecap="round"/>
<path d="M966.8,227.2 C968.5,224.6 973.9,217.2 976.9,211.6 C979.9,206.0 983.0,200.2 984.7,193.7 C986.4,187.2 986.6,175.9 987.0,172.4" stroke="#262626" stroke-width="1.15" fill="none" stroke-linejoin="round" stroke-linecap="round" />
<path d="M978.0,233.9 C979.5,231.3 983.6,224.1 987.0,218.3 C990.4,212.5 994.9,204.3 998.1,199.3 C1001.3,194.3 1004.7,190.0 1006.0,188.1" stroke="#262626" stroke-width="1.26" fill="none" stroke-linejoin="round" stroke-linecap="round" />
<path d="M1006.0,188.1 L1017.1,178.6 L994.8,165.7" stroke="#262626" stroke-width="1.26" fill="none" stroke-linejoin="round" stroke-linecap="round"/>
<path d="M972.4,179.1 L985.8,172.4 L981.9,186.4" stroke="#262626" stroke-width="1.15" fill="none" stroke-linejoin="round" stroke-linecap="round"/>
<path d="M999.3,171.3 C999.9,172.8 1002.1,177.2 1003.0,180.0 C1003.9,182.8 1004.5,186.8 1004.8,188.1" stroke="#262626" stroke-width="1.15" fill="none" stroke-linejoin="round" stroke-linecap="round" />
<path d="M994.8,165.7 L1020.5,150.1" stroke="#262626" stroke-width="1.26" fill="none" stroke-linejoin="round" stroke-linecap="round"/>
<path d="M1020.5,150.1 L1046.3,162.4 L1055.2,161.2" stroke="#262626" stroke-width="1.38" fill="none" stroke-linejoin="round" stroke-linecap="round"/>
<path d="M1055.2,161.2 C1058.2,161.8 1067.9,162.9 1073.1,164.6 C1078.3,166.3 1082.4,168.3 1086.5,171.3 C1090.6,174.3 1094.5,179.4 1097.7,182.5 C1101.0,185.6 1104.6,188.8 1106.0,190.0" stroke="#262626" stroke-width="1.38" fill="none" stroke-linejoin="round" stroke-linecap="round" />
<path d="M1106.0,190.0 L1123.4,198.7" stroke="#262626" stroke-width="1.38" fill="none" stroke-linejoin="round" stroke-linecap="round"/>
<path d="M1002.9,169.7 L1017.4,179.1" stroke="#262626" stroke-width="1.03" fill="none" stroke-linejoin="round" stroke-linecap="round"/>
<path d="M962.4,299.9 L971.4,292.1" stroke="#262626" stroke-width="1.15" fill="none" stroke-linejoin="round" stroke-linecap="round"/>
<path d="M970.5,292.7 L962.4,299.9" stroke="#262626" stroke-width="1.15" fill="none" stroke-linejoin="round" stroke-linecap="round"/>
<path d="M970.2,270.0 C970.3,272.5 970.1,280.3 970.8,285.0 C971.5,289.7 972.7,294.1 974.4,298.0 C976.1,301.9 978.3,305.4 980.9,308.5 C983.5,311.6 986.3,313.6 990.0,316.3 C993.7,319.1 1000.8,323.6 1003.0,325.0" stroke="#262626" stroke-width="1.15" fill="none" stroke-linejoin="round" stroke-linecap="round" />
<path d="M962.4,299.9 L1010.5,325.6 L1040.3,341.6" stroke="#262626" stroke-width="1.38" fill="none" stroke-linejoin="round" stroke-linecap="round"/>
<path d="M1094.0,182.0 C1091.9,179.9 1085.8,172.2 1081.3,169.7 C1076.8,167.2 1071.9,166.9 1066.8,166.8 C1061.7,166.7 1058.0,166.0 1050.8,169.0 C1043.6,172.0 1031.7,178.4 1023.9,184.7 C1016.1,191.0 1009.8,198.4 1003.8,207.0 C997.8,215.6 991.8,226.5 988.1,236.2 C984.4,245.9 982.3,255.1 981.4,265.2 C980.5,275.2 981.0,287.9 982.5,296.5 C984.0,305.1 986.9,311.8 990.4,316.7 C993.9,321.6 1000.4,324.1 1003.8,325.6 C1007.1,327.1 1009.4,325.6 1010.5,325.6" stroke="#262626" stroke-width="1.26" fill="none" stroke-linejoin="round" stroke-linecap="round" />
<path d="M1052.7,169.6 C1048.2,172.2 1033.6,179.0 1025.8,185.3 C1018.0,191.6 1011.7,199.0 1005.7,207.6 C999.7,216.2 993.7,227.1 990.0,236.8 C986.3,246.5 984.2,255.8 983.3,265.8 C982.4,275.9 982.9,288.5 984.4,297.1 C985.9,305.7 991.0,313.9 992.3,317.3" stroke="#262626" stroke-width="1.15" fill="none" stroke-linejoin="round" stroke-linecap="round" />
<path d="M1094.4,182.8 C1092.2,181.6 1087.4,176.5 1081.3,175.5 C1075.2,174.5 1064.9,175.9 1058.0,177.0 C1051.1,178.1 1046.4,179.2 1040.0,182.0 C1033.6,184.8 1026.2,186.2 1019.4,193.7 C1012.6,201.2 1004.1,215.6 999.3,227.2 C994.5,238.8 991.1,251.4 990.4,263.0 C989.6,274.6 992.6,287.6 994.8,296.5 C997.0,305.4 1000.4,311.8 1003.8,316.7 C1007.2,321.6 1013.1,324.1 1015.0,325.6" stroke="#262626" stroke-width="1.26" fill="none" stroke-linejoin="round" stroke-linecap="round" />
<path d="M1128.8,201.5 C1129.1,201.7 1130.2,202.3 1131.0,202.8 C1131.7,203.3 1132.3,203.8 1133.0,204.3 C1133.7,204.8 1134.3,205.4 1135.0,206.0 C1135.6,206.6 1136.2,207.2 1136.8,207.8 C1137.4,208.5 1137.9,209.2 1138.5,209.9 C1139.0,210.6 1139.5,211.4 1140.0,212.1 C1140.5,212.9 1141.0,213.7 1141.5,214.5 C1141.9,215.3 1142.3,216.2 1142.7,217.1 C1143.2,218.0 1143.5,218.9 1143.9,219.8 C1144.2,220.7 1144.6,221.7 1144.9,222.6 C1145.2,223.6 1145.5,224.6 1145.7,225.6 C1146.0,226.7 1146.2,227.7 1146.4,228.8 C1146.6,229.8 1146.8,230.9 1146.9,232.0 C1147.1,233.1 1147.2,234.3 1147.3,235.4 C1147.4,236.5 1147.5,237.7 1147.5,238.9 C1147.6,240.0 1147.6,241.2 1147.6,242.4 C1147.6,243.6 1147.5,244.9 1147.5,246.1 C1147.4,247.3 1147.3,248.6 1147.2,249.8 C1147.1,251.1 1147.0,252.3 1146.8,253.6 C1146.6,254.9 1146.5,256.2 1146.2,257.5 C1146.0,258.8 1145.8,260.1 1145.5,261.4 C1145.3,262.7 1145.0,264.0 1144.6,265.3 C1144.3,266.6 1144.0,267.9 1143.6,269.2 C1143.2,270.6 1142.9,271.9 1142.4,273.2 C1142.0,274.5 1141.6,275.9 1141.1,277.2 C1140.7,278.5 1140.2,279.8 1139.7,281.1 C1139.2,282.4 1138.6,283.8 1138.1,285.1 C1137.5,286.4 1136.9,287.7 1136.3,289.0 C1135.7,290.3 1135.1,291.6 1134.5,292.8 C1133.9,294.1 1133.2,295.4 1132.5,296.6 C1131.8,297.9 1131.1,299.2 1130.4,300.4 C1129.7,301.6 1129.0,302.9 1128.2,304.1 C1127.5,305.3 1126.7,306.5 1125.9,307.7 C1125.1,308.8 1124.3,310.0 1123.5,311.2 C1122.7,312.3 1121.8,313.4 1121.0,314.6 C1120.2,315.7 1119.3,316.8 1118.4,317.8 C1117.5,318.9 1116.7,320.0 1115.8,321.0 C1114.9,322.0 1113.9,323.0 1113.0,324.0 C1112.1,325.0 1111.2,326.0 1110.2,326.9 C1109.3,327.9 1108.3,328.8 1107.4,329.7 C1106.4,330.6 1105.4,331.4 1104.5,332.3 C1103.5,333.1 1102.5,333.9 1101.5,334.7 C1100.5,335.5 1099.5,336.2 1098.6,337.0 C1097.6,337.7 1096.6,338.4 1095.6,339.1 C1094.6,339.7 1093.5,340.4 1092.5,341.0 C1091.5,341.6 1090.5,342.2 1089.5,342.7 C1088.5,343.3 1087.5,343.8 1086.5,344.2 C1085.5,344.7 1084.5,345.2 1083.5,345.6 C1082.5,346.0 1081.5,346.4 1080.5,346.7 C1079.5,347.1 1078.5,347.4 1077.5,347.7 C1076.6,348.0 1075.6,348.2 1074.6,348.4 C1073.6,348.7 1072.7,348.8 1071.7,349.0 C1070.8,349.1 1069.8,349.2 1068.9,349.3 C1067.9,349.4 1067.0,349.4 1066.1,349.5 C1065.2,349.5 1064.3,349.4 1063.4,349.4 C1062.5,349.3 1061.6,349.2 1060.7,349.1 C1059.9,349.0 1059.0,348.8 1058.2,348.6 C1057.3,348.4 1056.5,348.2 1055.7,347.9 C1054.9,347.6 1054.1,347.3 1053.3,347.0 C1052.5,346.7 1051.8,346.3 1051.0,345.9 C1050.3,345.5 1049.6,345.1 1048.8,344.6 C1048.1,344.1 1047.5,343.6 1046.8,343.1 C1046.1,342.6 1045.5,342.0 1044.8,341.4 C1044.2,340.8 1043.6,340.2 1043.0,339.6 C1042.4,338.9 1041.9,338.2 1041.3,337.5 C1040.8,336.8 1040.3,336.0 1039.8,335.3 C1039.3,334.5 1038.8,333.7 1038.3,332.9 C1037.9,332.1 1037.5,331.2 1037.1,330.3 C1036.6,329.4 1036.3,328.5 1035.9,327.6 C1035.6,326.7 1035.2,325.7 1034.9,324.8 C1034.6,323.8 1034.3,322.8 1034.1,321.8 C1033.8,320.7 1033.6,319.7 1033.4,318.6 C1033.2,317.6 1033.0,316.5 1032.9,315.4 C1032.7,314.3 1032.6,313.1 1032.5,312.0 C1032.4,310.9 1032.3,309.7 1032.3,308.5 C1032.2,307.4 1032.2,306.2 1032.2,305.0 C1032.2,303.8 1032.3,302.5 1032.3,301.3 C1032.4,300.1 1032.5,298.8 1032.6,297.6 C1032.7,296.3 1032.8,295.1 1033.0,293.8 C1033.2,292.5 1033.3,291.2 1033.6,289.9 C1033.8,288.6 1034.0,287.3 1034.3,286.0 C1034.5,284.7 1034.8,283.4 1035.2,282.1 C1035.5,280.8 1035.8,279.5 1036.2,278.2 C1036.6,276.8 1036.9,275.5 1037.4,274.2 C1037.8,272.9 1038.2,271.5 1038.7,270.2 C1039.1,268.9 1039.6,267.6 1040.1,266.3 C1040.6,265.0 1041.2,263.6 1041.7,262.3 C1042.3,261.0 1042.9,259.7 1043.5,258.4 C1044.1,257.1 1044.7,255.8 1045.3,254.6 C1045.9,253.3 1046.6,252.0 1047.3,250.8 C1048.0,249.5 1048.7,248.2 1049.4,247.0 C1050.1,245.8 1050.8,244.5 1051.6,243.3 C1052.3,242.1 1053.1,240.9 1053.9,239.7 C1054.7,238.6 1055.5,237.4 1056.3,236.2 C1057.1,235.1 1058.0,234.0 1058.8,232.8 C1059.6,231.7 1060.5,230.6 1061.4,229.6 C1062.3,228.5 1063.1,227.4 1064.0,226.4 C1064.9,225.4 1065.9,224.4 1066.8,223.4 C1067.7,222.4 1068.6,221.4 1069.6,220.5 C1070.5,219.5 1071.5,218.6 1072.4,217.7 C1073.4,216.8 1074.4,216.0 1075.3,215.1 C1076.3,214.3 1077.3,213.5 1078.3,212.7 C1079.3,211.9 1080.3,211.2 1081.2,210.4 C1082.2,209.7 1083.2,209.0 1084.2,208.3 C1085.2,207.7 1086.3,207.0 1087.3,206.4 C1088.3,205.8 1089.3,205.2 1090.3,204.7 C1091.3,204.1 1092.3,203.6 1093.3,203.2 C1094.3,202.7 1095.3,202.2 1096.3,201.8 C1097.3,201.4 1098.3,201.0 1099.3,200.7 C1100.3,200.3 1101.3,200.0 1102.3,199.7 C1103.2,199.4 1104.2,199.2 1105.2,199.0 C1106.2,198.7 1107.1,198.6 1108.1,198.4 C1109.0,198.3 1110.0,198.2 1110.9,198.1 C1111.9,198.0 1112.8,198.0 1113.7,197.9 C1114.6,197.9 1115.5,198.0 1116.4,198.0 C1117.3,198.1 1118.2,198.2 1119.1,198.3 C1119.9,198.4 1120.8,198.6 1121.6,198.8 C1122.5,199.0 1123.3,199.2 1124.1,199.5 C1124.9,199.8 1125.7,200.1 1126.5,200.4 C1127.3,200.7 1128.4,201.3 1128.8,201.5 C1129.2,201.7 1128.4,201.3 1128.8,201.5 Z" stroke="#262626" stroke-width="1.38" fill="none" stroke-linejoin="round" stroke-linecap="round" />
<path d="M1088.5,341.3 C1088.0,341.5 1086.5,342.3 1085.4,342.8 C1084.4,343.2 1083.4,343.6 1082.4,344.0 C1081.4,344.4 1080.4,344.7 1079.4,345.1 C1078.4,345.4 1077.4,345.6 1076.4,345.9 C1075.4,346.1 1074.4,346.3 1073.4,346.5 C1072.5,346.6 1071.5,346.8 1070.5,346.8 C1069.6,346.9 1068.6,347.0 1067.7,347.0 C1066.8,347.0 1065.9,347.0 1065.0,346.9 C1064.0,346.8 1063.2,346.7 1062.3,346.6 C1061.4,346.5 1060.5,346.3 1059.7,346.1 C1058.8,345.9 1058.0,345.6 1057.2,345.3 C1056.4,345.0 1055.6,344.7 1054.8,344.4 C1054.0,344.0 1053.3,343.6 1052.5,343.2 C1051.8,342.7 1051.1,342.3 1050.4,341.8 C1049.7,341.3 1049.0,340.7 1048.4,340.2 C1047.7,339.6 1047.1,339.0 1046.5,338.3 C1045.9,337.7 1045.3,337.0 1044.7,336.3 C1044.1,335.6 1043.6,334.9 1043.1,334.1 C1042.6,333.4 1042.1,332.6 1041.6,331.7 C1041.1,330.9 1040.7,330.1 1040.3,329.2 C1039.9,328.3 1039.5,327.4 1039.1,326.4 C1038.8,325.5 1038.4,324.5 1038.1,323.5 C1037.8,322.5 1037.5,321.5 1037.3,320.5 C1037.0,319.4 1036.8,318.3 1036.6,317.3 C1036.4,316.2 1036.2,315.1 1036.1,313.9 C1035.9,312.8 1035.8,311.6 1035.7,310.5 C1035.7,309.3 1035.6,308.1 1035.6,306.9 C1035.5,305.7 1035.5,304.4 1035.6,303.2 C1035.6,302.0 1035.7,300.7 1035.7,299.4 C1035.8,298.2 1035.9,296.9 1036.1,295.6 C1036.2,294.3 1036.4,293.0 1036.6,291.7 C1036.8,290.3 1037.0,289.0 1037.3,287.7 C1037.5,286.4 1037.8,285.0 1038.1,283.7 C1038.4,282.3 1038.7,281.0 1039.1,279.6 C1039.5,278.3 1039.8,276.9 1040.3,275.5 C1040.7,274.2 1041.1,272.8 1041.6,271.5 C1042.0,270.1 1042.5,268.8 1043.0,267.4 C1043.6,266.0 1044.1,264.7 1044.7,263.3 C1045.2,262.0 1045.8,260.7 1046.4,259.3 C1047.0,258.0 1047.7,256.7 1048.3,255.3 C1049.0,254.0 1049.6,252.7 1050.3,251.4 C1051.0,250.1 1051.8,248.8 1052.5,247.5 C1053.2,246.3 1054.0,245.0 1054.8,243.8 C1055.5,242.5 1056.3,241.3 1057.1,240.1 C1057.9,238.9 1058.8,237.7 1059.6,236.5 C1060.5,235.3 1061.3,234.1 1062.2,233.0 C1063.1,231.9 1064.0,230.7 1064.9,229.6 C1065.8,228.5 1066.7,227.5 1067.6,226.4 C1068.6,225.4 1069.5,224.3 1070.5,223.3 C1071.4,222.3 1072.4,221.4 1073.3,220.4 C1074.3,219.5 1075.3,218.5 1076.3,217.6 C1077.3,216.7 1078.3,215.9 1079.3,215.0 C1080.3,214.2 1081.3,213.4 1082.3,212.6 C1083.3,211.8 1084.3,211.1 1085.3,210.4 C1086.4,209.7 1087.4,209.0 1088.4,208.3 C1089.4,207.7 1090.5,207.1 1091.5,206.5 C1092.5,205.9 1093.6,205.4 1094.6,204.9 C1095.6,204.3 1096.6,203.9 1097.6,203.4 C1098.7,203.0 1099.7,202.6 1100.7,202.2 C1101.7,201.8 1103.2,201.4 1103.7,201.2" stroke="#262626" stroke-width="1.15" fill="none" stroke-linejoin="round" stroke-linecap="round" />
<path d="M1111.7,239.6 C1112.0,239.8 1112.8,240.2 1113.3,240.6 C1113.8,240.9 1114.2,241.4 1114.7,241.8 C1115.1,242.2 1115.6,242.7 1116.0,243.2 C1116.4,243.7 1116.8,244.2 1117.1,244.8 C1117.5,245.4 1117.8,246.0 1118.1,246.6 C1118.4,247.2 1118.7,247.9 1119.0,248.5 C1119.2,249.2 1119.4,249.9 1119.6,250.7 C1119.8,251.4 1120.0,252.1 1120.2,252.9 C1120.3,253.7 1120.4,254.5 1120.5,255.3 C1120.6,256.2 1120.6,257.0 1120.7,257.9 C1120.7,258.7 1120.7,259.6 1120.7,260.5 C1120.6,261.4 1120.6,262.3 1120.5,263.2 C1120.4,264.1 1120.3,265.1 1120.1,266.0 C1120.0,266.9 1119.8,267.9 1119.6,268.8 C1119.4,269.8 1119.2,270.8 1118.9,271.7 C1118.7,272.7 1118.4,273.7 1118.1,274.6 C1117.7,275.6 1117.4,276.6 1117.0,277.5 C1116.7,278.5 1116.3,279.4 1115.9,280.4 C1115.5,281.4 1115.0,282.3 1114.6,283.3 C1114.1,284.2 1113.6,285.1 1113.1,286.0 C1112.6,287.0 1112.1,287.9 1111.6,288.8 C1111.0,289.7 1110.5,290.6 1109.9,291.4 C1109.3,292.3 1108.7,293.1 1108.1,294.0 C1107.5,294.8 1106.8,295.6 1106.2,296.4 C1105.5,297.2 1104.9,297.9 1104.2,298.7 C1103.5,299.4 1102.9,300.1 1102.2,300.8 C1101.5,301.5 1100.8,302.2 1100.1,302.8 C1099.4,303.4 1098.6,304.0 1097.9,304.6 C1097.2,305.2 1096.5,305.7 1095.7,306.2 C1095.0,306.7 1094.3,307.2 1093.5,307.6 C1092.8,308.1 1092.0,308.5 1091.3,308.9 C1090.6,309.3 1089.8,309.6 1089.1,309.9 C1088.4,310.2 1087.6,310.5 1086.9,310.7 C1086.2,310.9 1085.5,311.1 1084.8,311.3 C1084.1,311.4 1083.4,311.6 1082.7,311.6 C1082.0,311.7 1081.3,311.8 1080.6,311.8 C1080.0,311.8 1079.3,311.7 1078.7,311.7 C1078.0,311.6 1077.4,311.5 1076.8,311.3 C1076.2,311.2 1075.6,311.0 1075.0,310.8 C1074.4,310.6 1073.8,310.3 1073.3,310.0 C1072.8,309.7 1072.2,309.4 1071.7,309.0 C1071.2,308.7 1070.8,308.2 1070.3,307.8 C1069.9,307.4 1069.4,306.9 1069.0,306.4 C1068.6,305.9 1068.2,305.4 1067.9,304.8 C1067.5,304.2 1067.2,303.6 1066.9,303.0 C1066.6,302.4 1066.3,301.7 1066.0,301.1 C1065.8,300.4 1065.6,299.7 1065.4,298.9 C1065.2,298.2 1065.0,297.5 1064.8,296.7 C1064.7,295.9 1064.6,295.1 1064.5,294.3 C1064.4,293.4 1064.4,292.6 1064.3,291.7 C1064.3,290.9 1064.3,290.0 1064.3,289.1 C1064.4,288.2 1064.4,287.3 1064.5,286.4 C1064.6,285.5 1064.7,284.5 1064.9,283.6 C1065.0,282.7 1065.2,281.7 1065.4,280.8 C1065.6,279.8 1065.8,278.8 1066.1,277.9 C1066.3,276.9 1066.6,275.9 1066.9,275.0 C1067.3,274.0 1067.6,273.0 1068.0,272.1 C1068.3,271.1 1068.7,270.2 1069.1,269.2 C1069.5,268.2 1070.0,267.3 1070.4,266.3 C1070.9,265.4 1071.4,264.5 1071.9,263.6 C1072.4,262.6 1072.9,261.7 1073.4,260.8 C1074.0,259.9 1074.5,259.0 1075.1,258.2 C1075.7,257.3 1076.3,256.5 1076.9,255.6 C1077.5,254.8 1078.2,254.0 1078.8,253.2 C1079.5,252.4 1080.1,251.7 1080.8,250.9 C1081.5,250.2 1082.1,249.5 1082.8,248.8 C1083.5,248.1 1084.2,247.4 1084.9,246.8 C1085.6,246.2 1086.4,245.6 1087.1,245.0 C1087.8,244.4 1088.5,243.9 1089.3,243.4 C1090.0,242.9 1090.7,242.4 1091.5,242.0 C1092.2,241.5 1093.0,241.1 1093.7,240.7 C1094.4,240.3 1095.2,240.0 1095.9,239.7 C1096.6,239.4 1097.4,239.1 1098.1,238.9 C1098.8,238.7 1099.5,238.5 1100.2,238.3 C1100.9,238.2 1101.6,238.0 1102.3,238.0 C1103.0,237.9 1103.7,237.8 1104.4,237.8 C1105.0,237.8 1105.7,237.9 1106.3,237.9 C1107.0,238.0 1107.6,238.1 1108.2,238.3 C1108.8,238.4 1109.4,238.6 1110.0,238.8 C1110.6,239.0 1111.4,239.5 1111.7,239.6 C1112.0,239.7 1111.4,239.4 1111.7,239.6 Z" stroke="#262626" stroke-width="1.26" fill="none" stroke-linejoin="round" stroke-linecap="round" />
<path d="M1104.0,236.0 L1107.0,231.5 L1116.0,234.0 L1114.0,241.0" stroke="#262626" stroke-width="1.15" fill="none" stroke-linejoin="round" stroke-linecap="round"/>
<path d="M979.3,140.4 L1001.6,86.4 L1026.2,86.4" stroke="#333" stroke-width="1.15" fill="none" stroke-linejoin="round" stroke-linecap="round"/>
<circle cx="979.3" cy="140.4" r="1.3" fill="#222"/>
<text x="1036" y="91.5" font-size="19.5" fill="#2e2e2e">AR</text>
<path d="M1037.0,216.2 L1059.5,131.2 L1084.9,131.2" stroke="#333" stroke-width="1.15" fill="none" stroke-linejoin="round" stroke-linecap="round"/>
<circle cx="1037" cy="216.2" r="1.3" fill="#222"/>
<text x="1092.5" y="137.8" font-size="19" fill="#2e2e2e">GRMP...B</text>
</svg>
<div class="c" style="left:21px;top:390.7px;width:1199.5px;height:75.69999999999999px;background:#c9e9d6"></div>
<div class="c" style="left:115px;top:466.4px;width:1105.5px;height:26.0px;background:#ffffff"></div>
<div class="c" style="left:21px;top:466.4px;width:94px;height:26.0px;background:linear-gradient(to right,#c6e6d2 0%,#ffffff 52%,#c6e6d2 100%)"></div>
<div class="b" style="left:21px;top:466.4px;width:94px;height:26.0px;line-height:26.0px">19/24<span class="ast">*</span></div>
<div class="t" style="left:115px;top:466.4px;width:40.5px;height:26.0px;line-height:26.0px"><span class="dash">-</span></div>
<div class="t" style="left:155.5px;top:466.4px;width:40.0px;height:26.0px;line-height:26.0px">24</div>
<div class="t" style="left:195.5px;top:466.4px;width:35.5px;height:26.0px;line-height:26.0px"><span class="dash">-</span></div>
<div class="t" style="left:231px;top:466.4px;width:40.5px;height:26.0px;line-height:26.0px"><span class="dash">-</span></div>
<div class="t" style="left:271.5px;top:466.4px;width:40.0px;height:26.0px;line-height:26.0px"><span class="dash">-</span></div>
<div class="t" style="left:311.5px;top:466.4px;width:40.5px;height:26.0px;line-height:26.0px"><span class="dash">-</span></div>
<div class="t" style="left:352px;top:466.4px;width:40.5px;height:26.0px;line-height:26.0px">40</div>
<div class="t" style="left:392.5px;top:466.4px;width:40.5px;height:26.0px;line-height:26.0px"><span class="dash">-</span></div>
<div class="t" style="left:433px;top:466.4px;width:41px;height:26.0px;line-height:26.0px">40</div>
<div class="t" style="left:474px;top:466.4px;width:49px;height:26.0px;line-height:26.0px">25</div>
<div class="t" style="left:523px;top:466.4px;width:48px;height:26.0px;line-height:26.0px">66</div>
<div class="t" style="left:571px;top:466.4px;width:49px;height:26.0px;line-height:26.0px"><span class="dash">-</span></div>
<div class="t" style="left:620px;top:466.4px;width:49px;height:26.0px;line-height:26.0px">25</div>
<div class="t" style="left:669px;top:466.4px;width:48.5px;height:26.0px;line-height:26.0px">66</div>
<div class="t" style="left:717.5px;top:466.4px;width:48.5px;height:26.0px;line-height:26.0px"><span class="dash">-</span></div>
<div class="t" style="left:766px;top:466.4px;width:49.5px;height:26.0px;line-height:26.0px"><span class="dash">-</span></div>
<div class="t" style="left:815.5px;top:466.4px;width:48.0px;height:26.0px;line-height:26.0px"><span class="dash">-</span></div>
<div class="t" style="left:863.5px;top:466.4px;width:49.0px;height:26.0px;line-height:26.0px"><span class="dash">-</span></div>
<div class="t" style="left:912.5px;top:466.4px;width:48.5px;height:26.0px;line-height:26.0px">50</div>
<div class="t" style="left:961px;top:466.4px;width:48.5px;height:26.0px;line-height:26.0px"><span class="dash">-</span></div>
<div class="t" style="left:1009.5px;top:466.4px;width:49.0px;height:26.0px;line-height:26.0px"><span class="dash">-</span></div>
<div class="t" style="left:1058.5px;top:466.4px;width:41.0px;height:26.0px;line-height:26.0px">16</div>
<div class="t" style="left:1099.5px;top:466.4px;width:40.5px;height:26.0px;line-height:26.0px">2</div>
<div class="t" style="left:1140px;top:466.4px;width:40.5px;height:26.0px;line-height:26.0px">12</div>
<div class="t" style="left:1180.5px;top:466.4px;width:40.0px;height:26.0px;line-height:26.0px">18</div>
<div class="c" style="left:115px;top:492.4px;width:1105.5px;height:26.0px;background:#e6f4ea"></div>
<div class="c" style="left:21px;top:492.4px;width:94px;height:26.0px;background:linear-gradient(to right,#c6e6d2 0%,#ffffff 52%,#c6e6d2 100%)"></div>
<div class="b" style="left:21px;top:492.4px;width:94px;height:26.0px;line-height:26.0px">24/32</div>
<div class="t" style="left:115px;top:492.4px;width:40.5px;height:26.0px;line-height:26.0px">24</div>
<div class="t" style="left:155.5px;top:492.4px;width:40.0px;height:26.0px;line-height:26.0px">32</div>
<div class="t" style="left:195.5px;top:492.4px;width:35.5px;height:26.0px;line-height:26.0px">8</div>
<div class="t" style="left:231px;top:492.4px;width:40.5px;height:26.0px;line-height:26.0px">10</div>
<div class="t" style="left:271.5px;top:492.4px;width:40.0px;height:26.0px;line-height:26.0px">8</div>
<div class="t" style="left:311.5px;top:492.4px;width:40.5px;height:26.0px;line-height:26.0px">10</div>
<div class="t" style="left:352px;top:492.4px;width:40.5px;height:26.0px;line-height:26.0px">55</div>
<div class="t" style="left:392.5px;top:492.4px;width:40.5px;height:26.0px;line-height:26.0px">40</div>
<div class="t" style="left:433px;top:492.4px;width:41px;height:26.0px;line-height:26.0px">55</div>
<div class="t" style="left:474px;top:492.4px;width:49px;height:26.0px;line-height:26.0px">30</div>
<div class="t" style="left:523px;top:492.4px;width:48px;height:26.0px;line-height:26.0px">78</div>
<div class="t" style="left:571px;top:492.4px;width:49px;height:26.0px;line-height:26.0px">24</div>
<div class="t" style="left:620px;top:492.4px;width:49px;height:26.0px;line-height:26.0px">30</div>
<div class="t" style="left:669px;top:492.4px;width:48.5px;height:26.0px;line-height:26.0px">78</div>
<div class="t" style="left:717.5px;top:492.4px;width:48.5px;height:26.0px;line-height:26.0px"><span class="dash">-</span></div>
<div class="t" style="left:766px;top:492.4px;width:49.5px;height:26.0px;line-height:26.0px">50</div>
<div class="t" style="left:815.5px;top:492.4px;width:48.0px;height:26.0px;line-height:26.0px">118</div>
<div class="t" style="left:863.5px;top:492.4px;width:49.0px;height:26.0px;line-height:26.0px">44</div>
<div class="t" style="left:912.5px;top:492.4px;width:48.5px;height:26.0px;line-height:26.0px">60</div>
<div class="t" style="left:961px;top:492.4px;width:48.5px;height:26.0px;line-height:26.0px">138</div>
<div class="t" style="left:1009.5px;top:492.4px;width:49.0px;height:26.0px;line-height:26.0px"><span class="dash">-</span></div>
<div class="t" style="left:1058.5px;top:492.4px;width:41.0px;height:26.0px;line-height:26.0px">18</div>
<div class="t" style="left:1099.5px;top:492.4px;width:40.5px;height:26.0px;line-height:26.0px">2</div>
<div class="t" style="left:1140px;top:492.4px;width:40.5px;height:26.0px;line-height:26.0px">14</div>
<div class="t" style="left:1180.5px;top:492.4px;width:40.0px;height:26.0px;line-height:26.0px">27</div>
<div class="c" style="left:115px;top:518.4px;width:1105.5px;height:26.0px;background:#ffffff"></div>
<div class="c" style="left:21px;top:518.4px;width:94px;height:26.0px;background:linear-gradient(to right,#c6e6d2 0%,#ffffff 52%,#c6e6d2 100%)"></div>
<div class="b" style="left:21px;top:518.4px;width:94px;height:26.0px;line-height:26.0px">28/38</div>
<div class="t" style="left:115px;top:518.4px;width:40.5px;height:26.0px;line-height:26.0px">28</div>
<div class="t" style="left:155.5px;top:518.4px;width:40.0px;height:26.0px;line-height:26.0px">38</div>
<div class="t" style="left:195.5px;top:518.4px;width:35.5px;height:26.0px;line-height:26.0px">8</div>
<div class="t" style="left:231px;top:518.4px;width:40.5px;height:26.0px;line-height:26.0px">10</div>
<div class="t" style="left:271.5px;top:518.4px;width:40.0px;height:26.0px;line-height:26.0px">8</div>
<div class="t" style="left:311.5px;top:518.4px;width:40.5px;height:26.0px;line-height:26.0px">10</div>
<div class="t" style="left:352px;top:518.4px;width:40.5px;height:26.0px;line-height:26.0px">65</div>
<div class="t" style="left:392.5px;top:518.4px;width:40.5px;height:26.0px;line-height:26.0px">48</div>
<div class="t" style="left:433px;top:518.4px;width:41px;height:26.0px;line-height:26.0px">65</div>
<div class="t" style="left:474px;top:518.4px;width:49px;height:26.0px;line-height:26.0px">35</div>
<div class="t" style="left:523px;top:518.4px;width:48px;height:26.0px;line-height:26.0px">90</div>
<div class="t" style="left:571px;top:518.4px;width:49px;height:26.0px;line-height:26.0px">28</div>
<div class="t" style="left:620px;top:518.4px;width:49px;height:26.0px;line-height:26.0px">35</div>
<div class="t" style="left:669px;top:518.4px;width:48.5px;height:26.0px;line-height:26.0px">90</div>
<div class="t" style="left:717.5px;top:518.4px;width:48.5px;height:26.0px;line-height:26.0px"><span class="dash">-</span></div>
<div class="t" style="left:766px;top:518.4px;width:49.5px;height:26.0px;line-height:26.0px">60</div>
<div class="t" style="left:815.5px;top:518.4px;width:48.0px;height:26.0px;line-height:26.0px">140</div>
<div class="t" style="left:863.5px;top:518.4px;width:49.0px;height:26.0px;line-height:26.0px">53</div>
<div class="t" style="left:912.5px;top:518.4px;width:48.5px;height:26.0px;line-height:26.0px">80</div>
<div class="t" style="left:961px;top:518.4px;width:48.5px;height:26.0px;line-height:26.0px">180</div>
<div class="t" style="left:1009.5px;top:518.4px;width:49.0px;height:26.0px;line-height:26.0px"><span class="dash">-</span></div>
<div class="t" style="left:1058.5px;top:518.4px;width:41.0px;height:26.0px;line-height:26.0px">20</div>
<div class="t" style="left:1099.5px;top:518.4px;width:40.5px;height:26.0px;line-height:26.0px">2,5</div>
<div class="t" style="left:1140px;top:518.4px;width:40.5px;height:26.0px;line-height:26.0px">15</div>
<div class="t" style="left:1180.5px;top:518.4px;width:40.0px;height:26.0px;line-height:26.0px">30</div>
<div class="c" style="left:115px;top:544.4px;width:1105.5px;height:26.0px;background:#e6f4ea"></div>
<div class="c" style="left:21px;top:544.4px;width:94px;height:26.0px;background:linear-gradient(to right,#c6e6d2 0%,#ffffff 52%,#c6e6d2 100%)"></div>
<div class="b" style="left:21px;top:544.4px;width:94px;height:26.0px;line-height:26.0px">38/45</div>
<div class="t" style="left:115px;top:544.4px;width:40.5px;height:26.0px;line-height:26.0px">38</div>
<div class="t" style="left:155.5px;top:544.4px;width:40.0px;height:26.0px;line-height:26.0px">45</div>
<div class="t" style="left:195.5px;top:544.4px;width:35.5px;height:26.0px;line-height:26.0px">10</div>
<div class="t" style="left:231px;top:544.4px;width:40.5px;height:26.0px;line-height:26.0px">12</div>
<div class="t" style="left:271.5px;top:544.4px;width:40.0px;height:26.0px;line-height:26.0px">14</div>
<div class="t" style="left:311.5px;top:544.4px;width:40.5px;height:26.0px;line-height:26.0px">14</div>
<div class="t" style="left:352px;top:544.4px;width:40.5px;height:26.0px;line-height:26.0px">80</div>
<div class="t" style="left:392.5px;top:544.4px;width:40.5px;height:26.0px;line-height:26.0px">66</div>
<div class="t" style="left:433px;top:544.4px;width:41px;height:26.0px;line-height:26.0px">80</div>
<div class="t" style="left:474px;top:544.4px;width:49px;height:26.0px;line-height:26.0px">45</div>
<div class="t" style="left:523px;top:544.4px;width:48px;height:26.0px;line-height:26.0px">114</div>
<div class="t" style="left:571px;top:544.4px;width:49px;height:26.0px;line-height:26.0px">37</div>
<div class="t" style="left:620px;top:544.4px;width:49px;height:26.0px;line-height:26.0px">45</div>
<div class="t" style="left:669px;top:544.4px;width:48.5px;height:26.0px;line-height:26.0px">114</div>
<div class="t" style="left:717.5px;top:544.4px;width:48.5px;height:26.0px;line-height:26.0px"><span class="dash">-</span></div>
<div class="t" style="left:766px;top:544.4px;width:49.5px;height:26.0px;line-height:26.0px">80</div>
<div class="t" style="left:815.5px;top:544.4px;width:48.0px;height:26.0px;line-height:26.0px">184</div>
<div class="t" style="left:863.5px;top:544.4px;width:49.0px;height:26.0px;line-height:26.0px">72</div>
<div class="t" style="left:912.5px;top:544.4px;width:48.5px;height:26.0px;line-height:26.0px">110</div>
<div class="t" style="left:961px;top:544.4px;width:48.5px;height:26.0px;line-height:26.0px">244</div>
<div class="t" style="left:1009.5px;top:544.4px;width:49.0px;height:26.0px;line-height:26.0px"><span class="dash">-</span></div>
<div class="t" style="left:1058.5px;top:544.4px;width:41.0px;height:26.0px;line-height:26.0px">24</div>
<div class="t" style="left:1099.5px;top:544.4px;width:40.5px;height:26.0px;line-height:26.0px">3</div>
<div class="t" style="left:1140px;top:544.4px;width:40.5px;height:26.0px;line-height:26.0px">18</div>
<div class="t" style="left:1180.5px;top:544.4px;width:40.0px;height:26.0px;line-height:26.0px">38</div>
<div class="c" style="left:115px;top:570.4px;width:1105.5px;height:26.0px;background:#ffffff"></div>
<div class="c" style="left:21px;top:570.4px;width:94px;height:26.0px;background:linear-gradient(to right,#c6e6d2 0%,#ffffff 52%,#c6e6d2 100%)"></div>
<div class="b" style="left:21px;top:570.4px;width:94px;height:26.0px;line-height:26.0px">42/55</div>
<div class="t" style="left:115px;top:570.4px;width:40.5px;height:26.0px;line-height:26.0px">42</div>
<div class="t" style="left:155.5px;top:570.4px;width:40.0px;height:26.0px;line-height:26.0px">55</div>
<div class="t" style="left:195.5px;top:570.4px;width:35.5px;height:26.0px;line-height:26.0px">10</div>
<div class="t" style="left:231px;top:570.4px;width:40.5px;height:26.0px;line-height:26.0px">12</div>
<div class="t" style="left:271.5px;top:570.4px;width:40.0px;height:26.0px;line-height:26.0px">16</div>
<div class="t" style="left:311.5px;top:570.4px;width:40.5px;height:26.0px;line-height:26.0px">16</div>
<div class="t" style="left:352px;top:570.4px;width:40.5px;height:26.0px;line-height:26.0px">95</div>
<div class="t" style="left:392.5px;top:570.4px;width:40.5px;height:26.0px;line-height:26.0px">75</div>
<div class="t" style="left:433px;top:570.4px;width:41px;height:26.0px;line-height:26.0px">95</div>
<div class="t" style="left:474px;top:570.4px;width:49px;height:26.0px;line-height:26.0px">50</div>
<div class="t" style="left:523px;top:570.4px;width:48px;height:26.0px;line-height:26.0px">126</div>
<div class="t" style="left:571px;top:570.4px;width:49px;height:26.0px;line-height:26.0px">40</div>
<div class="t" style="left:620px;top:570.4px;width:49px;height:26.0px;line-height:26.0px">50</div>
<div class="t" style="left:669px;top:570.4px;width:48.5px;height:26.0px;line-height:26.0px">126</div>
<div class="t" style="left:717.5px;top:570.4px;width:48.5px;height:26.0px;line-height:26.0px"><span class="dash">-</span></div>
<div class="t" style="left:766px;top:570.4px;width:49.5px;height:26.0px;line-height:26.0px">110</div>
<div class="t" style="left:815.5px;top:570.4px;width:48.0px;height:26.0px;line-height:26.0px">246</div>
<div class="t" style="left:863.5px;top:570.4px;width:49.0px;height:26.0px;line-height:26.0px">100</div>
<div class="t" style="left:912.5px;top:570.4px;width:48.5px;height:26.0px;line-height:26.0px">110</div>
<div class="t" style="left:961px;top:570.4px;width:48.5px;height:26.0px;line-height:26.0px">246</div>
<div class="t" style="left:1009.5px;top:570.4px;width:49.0px;height:26.0px;line-height:26.0px"><span class="dash">-</span></div>
<div class="t" style="left:1058.5px;top:570.4px;width:41.0px;height:26.0px;line-height:26.0px">26</div>
<div class="t" style="left:1099.5px;top:570.4px;width:40.5px;height:26.0px;line-height:26.0px">3</div>
<div class="t" style="left:1140px;top:570.4px;width:40.5px;height:26.0px;line-height:26.0px">20</div>
<div class="t" style="left:1180.5px;top:570.4px;width:40.0px;height:26.0px;line-height:26.0px">46</div>
<div class="c" style="left:115px;top:596.4px;width:1105.5px;height:26.0px;background:#e6f4ea"></div>
<div class="c" style="left:21px;top:596.4px;width:94px;height:26.0px;background:linear-gradient(to right,#c6e6d2 0%,#ffffff 52%,#c6e6d2 100%)"></div>
<div class="b" style="left:21px;top:596.4px;width:94px;height:26.0px;line-height:26.0px">48/60</div>
<div class="t" style="left:115px;top:596.4px;width:40.5px;height:26.0px;line-height:26.0px">48</div>
<div class="t" style="left:155.5px;top:596.4px;width:40.0px;height:26.0px;line-height:26.0px">60</div>
<div class="t" style="left:195.5px;top:596.4px;width:35.5px;height:26.0px;line-height:26.0px">12</div>
<div class="t" style="left:231px;top:596.4px;width:40.5px;height:26.0px;line-height:26.0px">12</div>
<div class="t" style="left:271.5px;top:596.4px;width:40.0px;height:26.0px;line-height:26.0px">16</div>
<div class="t" style="left:311.5px;top:596.4px;width:40.5px;height:26.0px;line-height:26.0px">16</div>
<div class="t" style="left:352px;top:596.4px;width:40.5px;height:26.0px;line-height:26.0px">105</div>
<div class="t" style="left:392.5px;top:596.4px;width:40.5px;height:26.0px;line-height:26.0px">85</div>
<div class="t" style="left:433px;top:596.4px;width:41px;height:26.0px;line-height:26.0px">105</div>
<div class="t" style="left:474px;top:596.4px;width:49px;height:26.0px;line-height:26.0px">56</div>
<div class="t" style="left:523px;top:596.4px;width:48px;height:26.0px;line-height:26.0px">140</div>
<div class="t" style="left:571px;top:596.4px;width:49px;height:26.0px;line-height:26.0px">45</div>
<div class="t" style="left:620px;top:596.4px;width:49px;height:26.0px;line-height:26.0px">56</div>
<div class="t" style="left:669px;top:596.4px;width:48.5px;height:26.0px;line-height:26.0px">140</div>
<div class="t" style="left:717.5px;top:596.4px;width:48.5px;height:26.0px;line-height:26.0px"><span class="dash">-</span></div>
<div class="t" style="left:766px;top:596.4px;width:49.5px;height:26.0px;line-height:26.0px">110</div>
<div class="t" style="left:815.5px;top:596.4px;width:48.0px;height:26.0px;line-height:26.0px">248</div>
<div class="t" style="left:863.5px;top:596.4px;width:49.0px;height:26.0px;line-height:26.0px">99</div>
<div class="t" style="left:912.5px;top:596.4px;width:48.5px;height:26.0px;line-height:26.0px">140</div>
<div class="t" style="left:961px;top:596.4px;width:48.5px;height:26.0px;line-height:26.0px">308</div>
<div class="t" style="left:1009.5px;top:596.4px;width:49.0px;height:26.0px;line-height:26.0px"><span class="dash">-</span></div>
<div class="t" style="left:1058.5px;top:596.4px;width:41.0px;height:26.0px;line-height:26.0px">28</div>
<div class="t" style="left:1099.5px;top:596.4px;width:40.5px;height:26.0px;line-height:26.0px">3,5</div>
<div class="t" style="left:1140px;top:596.4px;width:40.5px;height:26.0px;line-height:26.0px">21</div>
<div class="t" style="left:1180.5px;top:596.4px;width:40.0px;height:26.0px;line-height:26.0px">51</div>
<div class="c" style="left:115px;top:622.4px;width:1105.5px;height:26.0px;background:#ffffff"></div>
<div class="c" style="left:21px;top:622.4px;width:94px;height:26.0px;background:linear-gradient(to right,#c6e6d2 0%,#ffffff 52%,#c6e6d2 100%)"></div>
<div class="b" style="left:21px;top:622.4px;width:94px;height:26.0px;line-height:26.0px">55/70</div>
<div class="t" style="left:115px;top:622.4px;width:40.5px;height:26.0px;line-height:26.0px">55</div>
<div class="t" style="left:155.5px;top:622.4px;width:40.0px;height:26.0px;line-height:26.0px">70</div>
<div class="t" style="left:195.5px;top:622.4px;width:35.5px;height:26.0px;line-height:26.0px">15</div>
<div class="t" style="left:231px;top:622.4px;width:40.5px;height:26.0px;line-height:26.0px">15</div>
<div class="t" style="left:271.5px;top:622.4px;width:40.0px;height:26.0px;line-height:26.0px">16</div>
<div class="t" style="left:311.5px;top:622.4px;width:40.5px;height:26.0px;line-height:26.0px">16</div>
<div class="t" style="left:352px;top:622.4px;width:40.5px;height:26.0px;line-height:26.0px">120</div>
<div class="t" style="left:392.5px;top:622.4px;width:40.5px;height:26.0px;line-height:26.0px">98</div>
<div class="t" style="left:433px;top:622.4px;width:41px;height:26.0px;line-height:26.0px">120</div>
<div class="t" style="left:474px;top:622.4px;width:49px;height:26.0px;line-height:26.0px">65</div>
<div class="t" style="left:523px;top:622.4px;width:48px;height:26.0px;line-height:26.0px">160</div>
<div class="t" style="left:571px;top:622.4px;width:49px;height:26.0px;line-height:26.0px">52</div>
<div class="t" style="left:620px;top:622.4px;width:49px;height:26.0px;line-height:26.0px">65</div>
<div class="t" style="left:669px;top:622.4px;width:48.5px;height:26.0px;line-height:26.0px">160</div>
<div class="t" style="left:717.5px;top:622.4px;width:48.5px;height:26.0px;line-height:26.0px"><span class="dash">-</span></div>
<div class="t" style="left:766px;top:622.4px;width:49.5px;height:26.0px;line-height:26.0px">110</div>
<div class="t" style="left:815.5px;top:622.4px;width:48.0px;height:26.0px;line-height:26.0px">250</div>
<div class="t" style="left:863.5px;top:622.4px;width:49.0px;height:26.0px;line-height:26.0px">97</div>
<div class="t" style="left:912.5px;top:622.4px;width:48.5px;height:26.0px;line-height:26.0px">140</div>
<div class="t" style="left:961px;top:622.4px;width:48.5px;height:26.0px;line-height:26.0px">310</div>
<div class="t" style="left:1009.5px;top:622.4px;width:49.0px;height:26.0px;line-height:26.0px"><span class="dash">-</span></div>
<div class="t" style="left:1058.5px;top:622.4px;width:41.0px;height:26.0px;line-height:26.0px">30</div>
<div class="t" style="left:1099.5px;top:622.4px;width:40.5px;height:26.0px;line-height:26.0px">4</div>
<div class="t" style="left:1140px;top:622.4px;width:40.5px;height:26.0px;line-height:26.0px">22</div>
<div class="t" style="left:1180.5px;top:622.4px;width:40.0px;height:26.0px;line-height:26.0px">60</div>
<div class="c" style="left:115px;top:648.4px;width:1105.5px;height:26.0px;background:#e6f4ea"></div>
<div class="c" style="left:21px;top:648.4px;width:94px;height:26.0px;background:linear-gradient(to right,#c6e6d2 0%,#ffffff 52%,#c6e6d2 100%)"></div>
<div class="b" style="left:21px;top:648.4px;width:94px;height:26.0px;line-height:26.0px">65/75</div>
<div class="t" style="left:115px;top:648.4px;width:40.5px;height:26.0px;line-height:26.0px">65</div>
<div class="t" style="left:155.5px;top:648.4px;width:40.0px;height:26.0px;line-height:26.0px">75</div>
<div class="t" style="left:195.5px;top:648.4px;width:35.5px;height:26.0px;line-height:26.0px">15</div>
<div class="t" style="left:231px;top:648.4px;width:40.5px;height:26.0px;line-height:26.0px">15</div>
<div class="t" style="left:271.5px;top:648.4px;width:40.0px;height:26.0px;line-height:26.0px">20</div>
<div class="t" style="left:311.5px;top:648.4px;width:40.5px;height:26.0px;line-height:26.0px">20</div>
<div class="t" style="left:352px;top:648.4px;width:40.5px;height:26.0px;line-height:26.0px">135</div>
<div class="t" style="left:392.5px;top:648.4px;width:40.5px;height:26.0px;line-height:26.0px">115</div>
<div class="t" style="left:433px;top:648.4px;width:41px;height:26.0px;line-height:26.0px">135</div>
<div class="t" style="left:474px;top:648.4px;width:49px;height:26.0px;line-height:26.0px">75</div>
<div class="t" style="left:523px;top:648.4px;width:48px;height:26.0px;line-height:26.0px">185</div>
<div class="t" style="left:571px;top:648.4px;width:49px;height:26.0px;line-height:26.0px">61</div>
<div class="t" style="left:620px;top:648.4px;width:49px;height:26.0px;line-height:26.0px">75</div>
<div class="t" style="left:669px;top:648.4px;width:48.5px;height:26.0px;line-height:26.0px">185</div>
<div class="t" style="left:717.5px;top:648.4px;width:48.5px;height:26.0px;line-height:26.0px"><span class="dash">-</span></div>
<div class="t" style="left:766px;top:648.4px;width:49.5px;height:26.0px;line-height:26.0px">140</div>
<div class="t" style="left:815.5px;top:648.4px;width:48.0px;height:26.0px;line-height:26.0px">315</div>
<div class="t" style="left:863.5px;top:648.4px;width:49.0px;height:26.0px;line-height:26.0px">126</div>
<div class="t" style="left:912.5px;top:648.4px;width:48.5px;height:26.0px;line-height:26.0px">140</div>
<div class="t" style="left:961px;top:648.4px;width:48.5px;height:26.0px;line-height:26.0px">315</div>
<div class="t" style="left:1009.5px;top:648.4px;width:49.0px;height:26.0px;line-height:26.0px"><span class="dash">-</span></div>
<div class="t" style="left:1058.5px;top:648.4px;width:41.0px;height:26.0px;line-height:26.0px">35</div>
<div class="t" style="left:1099.5px;top:648.4px;width:40.5px;height:26.0px;line-height:26.0px">4,5</div>
<div class="t" style="left:1140px;top:648.4px;width:40.5px;height:26.0px;line-height:26.0px">26</div>
<div class="t" style="left:1180.5px;top:648.4px;width:40.0px;height:26.0px;line-height:26.0px">68</div>
<div class="c" style="left:115px;top:674.4px;width:1105.5px;height:26.0px;background:#ffffff"></div>
<div class="c" style="left:21px;top:674.4px;width:94px;height:26.0px;background:linear-gradient(to right,#c6e6d2 0%,#ffffff 52%,#c6e6d2 100%)"></div>
<div class="b" style="left:21px;top:674.4px;width:94px;height:26.0px;line-height:26.0px">75/90</div>
<div class="t" style="left:115px;top:674.4px;width:40.5px;height:26.0px;line-height:26.0px">75</div>
<div class="t" style="left:155.5px;top:674.4px;width:40.0px;height:26.0px;line-height:26.0px">90</div>
<div class="t" style="left:195.5px;top:674.4px;width:35.5px;height:26.0px;line-height:26.0px">15</div>
<div class="t" style="left:231px;top:674.4px;width:40.5px;height:26.0px;line-height:26.0px">15</div>
<div class="t" style="left:271.5px;top:674.4px;width:40.0px;height:26.0px;line-height:26.0px">22</div>
<div class="t" style="left:311.5px;top:674.4px;width:40.5px;height:26.0px;line-height:26.0px">22</div>
<div class="t" style="left:352px;top:674.4px;width:40.5px;height:26.0px;line-height:26.0px">160</div>
<div class="t" style="left:392.5px;top:674.4px;width:40.5px;height:26.0px;line-height:26.0px">135</div>
<div class="t" style="left:433px;top:674.4px;width:41px;height:26.0px;line-height:26.0px">160</div>
<div class="t" style="left:474px;top:674.4px;width:49px;height:26.0px;line-height:26.0px">85</div>
<div class="t" style="left:523px;top:674.4px;width:48px;height:26.0px;line-height:26.0px">210</div>
<div class="t" style="left:571px;top:674.4px;width:49px;height:26.0px;line-height:26.0px">69</div>
<div class="t" style="left:620px;top:674.4px;width:49px;height:26.0px;line-height:26.0px">85</div>
<div class="t" style="left:669px;top:674.4px;width:48.5px;height:26.0px;line-height:26.0px">210</div>
<div class="t" style="left:717.5px;top:674.4px;width:48.5px;height:26.0px;line-height:26.0px"><span class="dash">-</span></div>
<div class="t" style="left:766px;top:674.4px;width:49.5px;height:26.0px;line-height:26.0px">140</div>
<div class="t" style="left:815.5px;top:674.4px;width:48.0px;height:26.0px;line-height:26.0px">320</div>
<div class="t" style="left:863.5px;top:674.4px;width:49.0px;height:26.0px;line-height:26.0px">124</div>
<div class="t" style="left:912.5px;top:674.4px;width:48.5px;height:26.0px;line-height:26.0px">170</div>
<div class="t" style="left:961px;top:674.4px;width:48.5px;height:26.0px;line-height:26.0px">380</div>
<div class="t" style="left:1009.5px;top:674.4px;width:49.0px;height:26.0px;line-height:26.0px"><span class="dash">-</span></div>
<div class="t" style="left:1058.5px;top:674.4px;width:41.0px;height:26.0px;line-height:26.0px">40</div>
<div class="t" style="left:1099.5px;top:674.4px;width:40.5px;height:26.0px;line-height:26.0px">5</div>
<div class="t" style="left:1140px;top:674.4px;width:40.5px;height:26.0px;line-height:26.0px">30</div>
<div class="t" style="left:1180.5px;top:674.4px;width:40.0px;height:26.0px;line-height:26.0px">80</div>
<div class="c" style="left:115px;top:700.4px;width:1105.5px;height:26.0px;background:#e6f4ea"></div>
<div class="c" style="left:21px;top:700.4px;width:94px;height:26.0px;background:linear-gradient(to right,#c6e6d2 0%,#ffffff 52%,#c6e6d2 100%)"></div>
<div class="b" style="left:21px;top:700.4px;width:94px;height:26.0px;line-height:26.0px">90/100</div>
<div class="t" style="left:115px;top:700.4px;width:40.5px;height:26.0px;line-height:26.0px">90</div>
<div class="t" style="left:155.5px;top:700.4px;width:40.0px;height:26.0px;line-height:26.0px">100</div>
<div class="t" style="left:195.5px;top:700.4px;width:35.5px;height:26.0px;line-height:26.0px">20</div>
<div class="t" style="left:231px;top:700.4px;width:40.5px;height:26.0px;line-height:26.0px">20</div>
<div class="t" style="left:271.5px;top:700.4px;width:40.0px;height:26.0px;line-height:26.0px"><span style="position:relative;top:-2px">30</span></div>
<div class="t" style="left:311.5px;top:700.4px;width:40.5px;height:26.0px;line-height:26.0px"><span style="position:relative;top:-2px">30</span></div>
<div class="t" style="left:352px;top:700.4px;width:40.5px;height:26.0px;line-height:26.0px">200</div>
<div class="t" style="left:392.5px;top:700.4px;width:40.5px;height:26.0px;line-height:26.0px">160</div>
<div class="t" style="left:433px;top:700.4px;width:41px;height:26.0px;line-height:26.0px">180</div>
<div class="t" style="left:474px;top:700.4px;width:49px;height:26.0px;line-height:26.0px">100</div>
<div class="t" style="left:523px;top:700.4px;width:48px;height:26.0px;line-height:26.0px">245</div>
<div class="t" style="left:571px;top:700.4px;width:49px;height:26.0px;line-height:26.0px">81</div>
<div class="t" style="left:620px;top:700.4px;width:49px;height:26.0px;line-height:26.0px">100</div>
<div class="t" style="left:669px;top:700.4px;width:48.5px;height:26.0px;line-height:26.0px">245</div>
<div class="t" style="left:717.5px;top:700.4px;width:48.5px;height:26.0px;line-height:26.0px">81</div>
<div class="t" style="left:766px;top:700.4px;width:49.5px;height:26.0px;line-height:26.0px">170</div>
<div class="t" style="left:815.5px;top:700.4px;width:48.0px;height:26.0px;line-height:26.0px">385</div>
<div class="t" style="left:863.5px;top:700.4px;width:49.0px;height:26.0px;line-height:26.0px">151</div>
<div class="t" style="left:912.5px;top:700.4px;width:48.5px;height:26.0px;line-height:26.0px">210</div>
<div class="t" style="left:961px;top:700.4px;width:48.5px;height:26.0px;line-height:26.0px">465</div>
<div class="t" style="left:1009.5px;top:700.4px;width:49.0px;height:26.0px;line-height:26.0px">191</div>
<div class="t" style="left:1058.5px;top:700.4px;width:41.0px;height:26.0px;line-height:26.0px">45</div>
<div class="t" style="left:1099.5px;top:700.4px;width:40.5px;height:26.0px;line-height:26.0px">5,5</div>
<div class="t" style="left:1140px;top:700.4px;width:40.5px;height:26.0px;line-height:26.0px">34</div>
<div class="t" style="left:1180.5px;top:700.4px;width:40.0px;height:26.0px;line-height:26.0px">100</div>
<div class="c" style="left:115px;top:726.4px;width:1105.5px;height:26.0px;background:#ffffff"></div>
<div class="c" style="left:21px;top:726.4px;width:94px;height:26.0px;background:linear-gradient(to right,#c6e6d2 0%,#ffffff 52%,#c6e6d2 100%)"></div>
<div class="b" style="left:21px;top:726.4px;width:94px;height:26.0px;line-height:26.0px">100/110</div>
<div class="t" style="left:115px;top:726.4px;width:40.5px;height:26.0px;line-height:26.0px">115</div>
<div class="t" style="left:155.5px;top:726.4px;width:40.0px;height:26.0px;line-height:26.0px"><span class="dash">-</span></div>
<div class="t" style="left:195.5px;top:726.4px;width:35.5px;height:26.0px;line-height:26.0px">45</div>
<div class="t" style="left:231px;top:726.4px;width:40.5px;height:26.0px;line-height:26.0px"><span class="dash">-</span></div>
<div class="t" style="left:271.5px;top:726.4px;width:40.0px;height:26.0px;line-height:26.0px"><span class="dash low">-</span></div>
<div class="t" style="left:311.5px;top:726.4px;width:40.5px;height:26.0px;line-height:26.0px"><span class="dash low">-</span></div>
<div class="t" style="left:352px;top:726.4px;width:40.5px;height:26.0px;line-height:26.0px">225</div>
<div class="t" style="left:392.5px;top:726.4px;width:40.5px;height:26.0px;line-height:26.0px">180</div>
<div class="t" style="left:433px;top:726.4px;width:41px;height:26.0px;line-height:26.0px"><span class="dash">-</span></div>
<div class="t" style="left:474px;top:726.4px;width:49px;height:26.0px;line-height:26.0px">110</div>
<div class="t" style="left:523px;top:726.4px;width:48px;height:26.0px;line-height:26.0px">270</div>
<div class="t" style="left:571px;top:726.4px;width:49px;height:26.0px;line-height:26.0px">89</div>
<div class="t" style="left:620px;top:726.4px;width:49px;height:26.0px;line-height:26.0px">110</div>
<div class="t" style="left:669px;top:726.4px;width:48.5px;height:26.0px;line-height:26.0px">270</div>
<div class="t" style="left:717.5px;top:726.4px;width:48.5px;height:26.0px;line-height:26.0px"><span class="dash">-</span></div>
<div class="t" style="left:766px;top:726.4px;width:49.5px;height:26.0px;line-height:26.0px"><span class="dash">-</span></div>
<div class="t" style="left:815.5px;top:726.4px;width:48.0px;height:26.0px;line-height:26.0px"><span class="dash">-</span></div>
<div class="t" style="left:863.5px;top:726.4px;width:49.0px;height:26.0px;line-height:26.0px"><span class="dash">-</span></div>
<div class="t" style="left:912.5px;top:726.4px;width:48.5px;height:26.0px;line-height:26.0px"><span class="dash">-</span></div>
<div class="t" style="left:961px;top:726.4px;width:48.5px;height:26.0px;line-height:26.0px"><span class="dash">-</span></div>
<div class="t" style="left:1009.5px;top:726.4px;width:49.0px;height:26.0px;line-height:26.0px"><span class="dash">-</span></div>
<div class="t" style="left:1058.5px;top:726.4px;width:41.0px;height:26.0px;line-height:26.0px">50</div>
<div class="t" style="left:1099.5px;top:726.4px;width:40.5px;height:26.0px;line-height:26.0px">6</div>
<div class="t" style="left:1140px;top:726.4px;width:40.5px;height:26.0px;line-height:26.0px">38</div>
<div class="t" style="left:1180.5px;top:726.4px;width:40.0px;height:26.0px;line-height:26.0px">113</div>
<div class="c" style="left:115px;top:752.4px;width:1105.5px;height:26.0px;background:#e6f4ea"></div>
<div class="c" style="left:21px;top:752.4px;width:94px;height:26.0px;background:linear-gradient(to right,#c6e6d2 0%,#ffffff 52%,#c6e6d2 100%)"></div>
<div class="b" style="left:21px;top:752.4px;width:94px;height:26.0px;line-height:26.0px">110/125</div>
<div class="t" style="left:115px;top:752.4px;width:40.5px;height:26.0px;line-height:26.0px">125</div>
<div class="t" style="left:155.5px;top:752.4px;width:40.0px;height:26.0px;line-height:26.0px"><span class="dash">-</span></div>
<div class="t" style="left:195.5px;top:752.4px;width:35.5px;height:26.0px;line-height:26.0px">55</div>
<div class="t" style="left:231px;top:752.4px;width:40.5px;height:26.0px;line-height:26.0px"><span class="dash">-</span></div>
<div class="t" style="left:271.5px;top:752.4px;width:40.0px;height:26.0px;line-height:26.0px"><span class="dash low">-</span></div>
<div class="t" style="left:311.5px;top:752.4px;width:40.5px;height:26.0px;line-height:26.0px"><span class="dash low">-</span></div>
<div class="t" style="left:352px;top:752.4px;width:40.5px;height:26.0px;line-height:26.0px">255</div>
<div class="t" style="left:392.5px;top:752.4px;width:40.5px;height:26.0px;line-height:26.0px">200</div>
<div class="t" style="left:433px;top:752.4px;width:41px;height:26.0px;line-height:26.0px"><span class="dash">-</span></div>
<div class="t" style="left:474px;top:752.4px;width:49px;height:26.0px;line-height:26.0px">120</div>
<div class="t" style="left:523px;top:752.4px;width:48px;height:26.0px;line-height:26.0px">295</div>
<div class="t" style="left:571px;top:752.4px;width:49px;height:26.0px;line-height:26.0px">96</div>
<div class="t" style="left:620px;top:752.4px;width:49px;height:26.0px;line-height:26.0px">120</div>
<div class="t" style="left:669px;top:752.4px;width:48.5px;height:26.0px;line-height:26.0px">295</div>
<div class="t" style="left:717.5px;top:752.4px;width:48.5px;height:26.0px;line-height:26.0px"><span class="dash">-</span></div>
<div class="t" style="left:766px;top:752.4px;width:49.5px;height:26.0px;line-height:26.0px"><span class="dash">-</span></div>
<div class="t" style="left:815.5px;top:752.4px;width:48.0px;height:26.0px;line-height:26.0px"><span class="dash">-</span></div>
<div class="t" style="left:863.5px;top:752.4px;width:49.0px;height:26.0px;line-height:26.0px"><span class="dash">-</span></div>
<div class="t" style="left:912.5px;top:752.4px;width:48.5px;height:26.0px;line-height:26.0px"><span class="dash">-</span></div>
<div class="t" style="left:961px;top:752.4px;width:48.5px;height:26.0px;line-height:26.0px"><span class="dash">-</span></div>
<div class="t" style="left:1009.5px;top:752.4px;width:49.0px;height:26.0px;line-height:26.0px"><span class="dash">-</span></div>
<div class="t" style="left:1058.5px;top:752.4px;width:41.0px;height:26.0px;line-height:26.0px">55</div>
<div class="t" style="left:1099.5px;top:752.4px;width:40.5px;height:26.0px;line-height:26.0px">6,5</div>
<div class="t" style="left:1140px;top:752.4px;width:40.5px;height:26.0px;line-height:26.0px">42</div>
<div class="t" style="left:1180.5px;top:752.4px;width:40.0px;height:26.0px;line-height:26.0px">127</div>
<div class="c" style="left:115px;top:778.4px;width:1105.5px;height:26.0px;background:#ffffff"></div>
<div class="c" style="left:21px;top:778.4px;width:94px;height:26.0px;background:linear-gradient(to right,#c6e6d2 0%,#ffffff 52%,#c6e6d2 100%)"></div>
<div class="b" style="left:21px;top:778.4px;width:94px;height:26.0px;line-height:26.0px">125/145</div>
<div class="t" style="left:115px;top:778.4px;width:40.5px;height:26.0px;line-height:26.0px">145</div>
<div class="t" style="left:155.5px;top:778.4px;width:40.0px;height:26.0px;line-height:26.0px"><span class="dash">-</span></div>
<div class="t" style="left:195.5px;top:778.4px;width:35.5px;height:26.0px;line-height:26.0px">55</div>
<div class="t" style="left:231px;top:778.4px;width:40.5px;height:26.0px;line-height:26.0px"><span class="dash">-</span></div>
<div class="t" style="left:271.5px;top:778.4px;width:40.0px;height:26.0px;line-height:26.0px"><span class="dash">-</span></div>
<div class="t" style="left:311.5px;top:778.4px;width:40.5px;height:26.0px;line-height:26.0px"><span class="dash">-</span></div>
<div class="t" style="left:352px;top:778.4px;width:40.5px;height:26.0px;line-height:26.0px">290</div>
<div class="t" style="left:392.5px;top:778.4px;width:40.5px;height:26.0px;line-height:26.0px">230</div>
<div class="t" style="left:433px;top:778.4px;width:41px;height:26.0px;line-height:26.0px"><span class="dash">-</span></div>
<div class="t" style="left:474px;top:778.4px;width:49px;height:26.0px;line-height:26.0px">140</div>
<div class="t" style="left:523px;top:778.4px;width:48px;height:26.0px;line-height:26.0px">340</div>
<div class="t" style="left:571px;top:778.4px;width:49px;height:26.0px;line-height:26.0px">112</div>
<div class="t" style="left:620px;top:778.4px;width:49px;height:26.0px;line-height:26.0px">140</div>
<div class="t" style="left:669px;top:778.4px;width:48.5px;height:26.0px;line-height:26.0px">340</div>
<div class="t" style="left:717.5px;top:778.4px;width:48.5px;height:26.0px;line-height:26.0px"><span class="dash">-</span></div>
<div class="t" style="left:766px;top:778.4px;width:49.5px;height:26.0px;line-height:26.0px"><span class="dash">-</span></div>
<div class="t" style="left:815.5px;top:778.4px;width:48.0px;height:26.0px;line-height:26.0px"><span class="dash">-</span></div>
<div class="t" style="left:863.5px;top:778.4px;width:49.0px;height:26.0px;line-height:26.0px"><span class="dash">-</span></div>
<div class="t" style="left:912.5px;top:778.4px;width:48.5px;height:26.0px;line-height:26.0px"><span class="dash">-</span></div>
<div class="t" style="left:961px;top:778.4px;width:48.5px;height:26.0px;line-height:26.0px"><span class="dash">-</span></div>
<div class="t" style="left:1009.5px;top:778.4px;width:49.0px;height:26.0px;line-height:26.0px"><span class="dash">-</span></div>
<div class="t" style="left:1058.5px;top:778.4px;width:41.0px;height:26.0px;line-height:26.0px">60</div>
<div class="t" style="left:1099.5px;top:778.4px;width:40.5px;height:26.0px;line-height:26.0px">7</div>
<div class="t" style="left:1140px;top:778.4px;width:40.5px;height:26.0px;line-height:26.0px">46</div>
<div class="t" style="left:1180.5px;top:778.4px;width:40.0px;height:26.0px;line-height:26.0px">147</div>
<div class="c" style="left:115px;top:804.4px;width:1105.5px;height:26.0px;background:#e6f4ea"></div>
<div class="c" style="left:21px;top:804.4px;width:94px;height:26.0px;background:linear-gradient(to right,#c6e6d2 0%,#ffffff 52%,#c6e6d2 100%)"></div>
<div class="b" style="left:21px;top:804.4px;width:94px;height:26.0px;line-height:26.0px">140/160</div>
<div class="t" style="left:115px;top:804.4px;width:40.5px;height:26.0px;line-height:26.0px">160</div>
<div class="t" style="left:155.5px;top:804.4px;width:40.0px;height:26.0px;line-height:26.0px"><span class="dash low">-</span></div>
<div class="t" style="left:195.5px;top:804.4px;width:35.5px;height:26.0px;line-height:26.0px">55</div>
<div class="t" style="left:231px;top:804.4px;width:40.5px;height:26.0px;line-height:26.0px"><span class="dash low">-</span></div>
<div class="t" style="left:271.5px;top:804.4px;width:40.0px;height:26.0px;line-height:26.0px"><span class="dash low">-</span></div>
<div class="t" style="left:311.5px;top:804.4px;width:40.5px;height:26.0px;line-height:26.0px"><span class="dash low">-</span></div>
<div class="t" style="left:352px;top:804.4px;width:40.5px;height:26.0px;line-height:26.0px">320</div>
<div class="t" style="left:392.5px;top:804.4px;width:40.5px;height:26.0px;line-height:26.0px">255</div>
<div class="t" style="left:433px;top:804.4px;width:41px;height:26.0px;line-height:26.0px"><span class="dash low">-</span></div>
<div class="t" style="left:474px;top:804.4px;width:49px;height:26.0px;line-height:26.0px">155</div>
<div class="t" style="left:523px;top:804.4px;width:48px;height:26.0px;line-height:26.0px">375</div>
<div class="t" style="left:571px;top:804.4px;width:49px;height:26.0px;line-height:26.0px">124</div>
<div class="t" style="left:620px;top:804.4px;width:49px;height:26.0px;line-height:26.0px"><span class="dash low">-</span></div>
<div class="t" style="left:669px;top:804.4px;width:48.5px;height:26.0px;line-height:26.0px"><span class="dash low">-</span></div>
<div class="t" style="left:717.5px;top:804.4px;width:48.5px;height:26.0px;line-height:26.0px"><span class="dash low">-</span></div>
<div class="t" style="left:766px;top:804.4px;width:49.5px;height:26.0px;line-height:26.0px"><span class="dash low">-</span></div>
<div class="t" style="left:815.5px;top:804.4px;width:48.0px;height:26.0px;line-height:26.0px"><span class="dash low">-</span></div>
<div class="t" style="left:863.5px;top:804.4px;width:49.0px;height:26.0px;line-height:26.0px"><span class="dash low">-</span></div>
<div class="t" style="left:912.5px;top:804.4px;width:48.5px;height:26.0px;line-height:26.0px"><span class="dash low">-</span></div>
<div class="t" style="left:961px;top:804.4px;width:48.5px;height:26.0px;line-height:26.0px"><span class="dash low">-</span></div>
<div class="t" style="left:1009.5px;top:804.4px;width:49.0px;height:26.0px;line-height:26.0px"><span class="dash low">-</span></div>
<div class="t" style="left:1058.5px;top:804.4px;width:41.0px;height:26.0px;line-height:26.0px">65</div>
<div class="t" style="left:1099.5px;top:804.4px;width:40.5px;height:26.0px;line-height:26.0px">7,5</div>
<div class="t" style="left:1140px;top:804.4px;width:40.5px;height:26.0px;line-height:26.0px">50</div>
<div class="t" style="left:1180.5px;top:804.4px;width:40.0px;height:26.0px;line-height:26.0px">165</div>
<div class="c" style="left:115px;top:830.4px;width:1105.5px;height:26.0px;background:#ffffff"></div>
<div class="c" style="left:21px;top:830.4px;width:94px;height:26.0px;background:linear-gradient(to right,#c6e6d2 0%,#ffffff 52%,#c6e6d2 100%)"></div>
<div class="b" style="left:21px;top:830.4px;width:94px;height:26.0px;line-height:26.0px">160/185</div>
<div class="t" style="left:115px;top:830.4px;width:40.5px;height:26.0px;line-height:26.0px">185</div>
<div class="t" style="left:155.5px;top:830.4px;width:40.0px;height:26.0px;line-height:26.0px"><span class="dash low">-</span></div>
<div class="t" style="left:195.5px;top:830.4px;width:35.5px;height:26.0px;line-height:26.0px">75</div>
<div class="t" style="left:231px;top:830.4px;width:40.5px;height:26.0px;line-height:26.0px"><span class="dash low">-</span></div>
<div class="t" style="left:271.5px;top:830.4px;width:40.0px;height:26.0px;line-height:26.0px"><span class="dash low">-</span></div>
<div class="t" style="left:311.5px;top:830.4px;width:40.5px;height:26.0px;line-height:26.0px"><span class="dash low">-</span></div>
<div class="t" style="left:352px;top:830.4px;width:40.5px;height:26.0px;line-height:26.0px">370</div>
<div class="t" style="left:392.5px;top:830.4px;width:40.5px;height:26.0px;line-height:26.0px">290</div>
<div class="t" style="left:433px;top:830.4px;width:41px;height:26.0px;line-height:26.0px"><span class="dash low">-</span></div>
<div class="t" style="left:474px;top:830.4px;width:49px;height:26.0px;line-height:26.0px">175</div>
<div class="t" style="left:523px;top:830.4px;width:48px;height:26.0px;line-height:26.0px">425</div>
<div class="t" style="left:571px;top:830.4px;width:49px;height:26.0px;line-height:26.0px">140</div>
<div class="t" style="left:620px;top:830.4px;width:49px;height:26.0px;line-height:26.0px"><span class="dash low">-</span></div>
<div class="t" style="left:669px;top:830.4px;width:48.5px;height:26.0px;line-height:26.0px"><span class="dash low">-</span></div>
<div class="t" style="left:717.5px;top:830.4px;width:48.5px;height:26.0px;line-height:26.0px"><span class="dash low">-</span></div>
<div class="t" style="left:766px;top:830.4px;width:49.5px;height:26.0px;line-height:26.0px"><span class="dash low">-</span></div>
<div class="t" style="left:815.5px;top:830.4px;width:48.0px;height:26.0px;line-height:26.0px"><span class="dash low">-</span></div>
<div class="t" style="left:863.5px;top:830.4px;width:49.0px;height:26.0px;line-height:26.0px"><span class="dash low">-</span></div>
<div class="t" style="left:912.5px;top:830.4px;width:48.5px;height:26.0px;line-height:26.0px"><span class="dash low">-</span></div>
<div class="t" style="left:961px;top:830.4px;width:48.5px;height:26.0px;line-height:26.0px"><span class="dash low">-</span></div>
<div class="t" style="left:1009.5px;top:830.4px;width:49.0px;height:26.0px;line-height:26.0px"><span class="dash low">-</span></div>
<div class="t" style="left:1058.5px;top:830.4px;width:41.0px;height:26.0px;line-height:26.0px">75</div>
<div class="t" style="left:1099.5px;top:830.4px;width:40.5px;height:26.0px;line-height:26.0px">9</div>
<div class="t" style="left:1140px;top:830.4px;width:40.5px;height:26.0px;line-height:26.0px">57</div>
<div class="t" style="left:1180.5px;top:830.4px;width:40.0px;height:26.0px;line-height:26.0px">190</div>
<div class="c" style="left:115px;top:856.4px;width:1105.5px;height:26.0px;background:#e6f4ea"></div>
<div class="c" style="left:21px;top:856.4px;width:94px;height:26.0px;background:linear-gradient(to right,#c6e6d2 0%,#ffffff 52%,#c6e6d2 100%)"></div>
<div class="b" style="left:21px;top:856.4px;width:94px;height:26.0px;line-height:26.0px">180/200</div>
<div class="t" style="left:115px;top:856.4px;width:40.5px;height:26.0px;line-height:26.0px">200</div>
<div class="t" style="left:155.5px;top:856.4px;width:40.0px;height:26.0px;line-height:26.0px"><span class="dash low">-</span></div>
<div class="t" style="left:195.5px;top:856.4px;width:35.5px;height:26.0px;line-height:26.0px">80</div>
<div class="t" style="left:231px;top:856.4px;width:40.5px;height:26.0px;line-height:26.0px"><span class="dash low">-</span></div>
<div class="t" style="left:271.5px;top:856.4px;width:40.0px;height:26.0px;line-height:26.0px"><span class="dash low">-</span></div>
<div class="t" style="left:311.5px;top:856.4px;width:40.5px;height:26.0px;line-height:26.0px"><span class="dash low">-</span></div>
<div class="t" style="left:352px;top:856.4px;width:40.5px;height:26.0px;line-height:26.0px">420</div>
<div class="t" style="left:392.5px;top:856.4px;width:40.5px;height:26.0px;line-height:26.0px">325</div>
<div class="t" style="left:433px;top:856.4px;width:41px;height:26.0px;line-height:26.0px"><span class="dash low">-</span></div>
<div class="t" style="left:474px;top:856.4px;width:49px;height:26.0px;line-height:26.0px">195</div>
<div class="t" style="left:523px;top:856.4px;width:48px;height:26.0px;line-height:26.0px">475</div>
<div class="t" style="left:571px;top:856.4px;width:49px;height:26.0px;line-height:26.0px">156</div>
<div class="t" style="left:620px;top:856.4px;width:49px;height:26.0px;line-height:26.0px"><span class="dash low">-</span></div>
<div class="t" style="left:669px;top:856.4px;width:48.5px;height:26.0px;line-height:26.0px"><span class="dash low">-</span></div>
<div class="t" style="left:717.5px;top:856.4px;width:48.5px;height:26.0px;line-height:26.0px"><span class="dash low">-</span></div>
<div class="t" style="left:766px;top:856.4px;width:49.5px;height:26.0px;line-height:26.0px"><span class="dash low">-</span></div>
<div class="t" style="left:815.5px;top:856.4px;width:48.0px;height:26.0px;line-height:26.0px"><span class="dash low">-</span></div>
<div class="t" style="left:863.5px;top:856.4px;width:49.0px;height:26.0px;line-height:26.0px"><span class="dash low">-</span></div>
<div class="t" style="left:912.5px;top:856.4px;width:48.5px;height:26.0px;line-height:26.0px"><span class="dash low">-</span></div>
<div class="t" style="left:961px;top:856.4px;width:48.5px;height:26.0px;line-height:26.0px"><span class="dash low">-</span></div>
<div class="t" style="left:1009.5px;top:856.4px;width:49.0px;height:26.0px;line-height:26.0px"><span class="dash low">-</span></div>
<div class="t" style="left:1058.5px;top:856.4px;width:41.0px;height:26.0px;line-height:26.0px">85</div>
<div class="t" style="left:1099.5px;top:856.4px;width:40.5px;height:26.0px;line-height:26.0px">10,5</div>
<div class="t" style="left:1140px;top:856.4px;width:40.5px;height:26.0px;line-height:26.0px">64</div>
<div class="t" style="left:1180.5px;top:856.4px;width:40.0px;height:26.0px;line-height:26.0px">220</div>
<div class="hs" style="left:21px;top:418px;width:94px">Size</div>
<div class="h3" style="left:115px;top:403.5px;width:40.5px">Fa<br>max<br>[mm]</div>
<div class="h3" style="left:155.5px;top:403.5px;width:40.0px">Fb<br>max<br>[mm]</div>
<div class="h2" style="left:195.5px;top:397.5px;width:156.5px">Fg [mm]<br>executions</div>
<div class="hsub" style="left:195.5px;top:441px;width:35.5px">A</div>
<div class="hsub" style="left:231px;top:441px;width:40.5px">B</div>
<div class="hsub" style="left:271.5px;top:441px;width:40.0px">AL</div>
<div class="hsub" style="left:311.5px;top:441px;width:40.5px">BL</div>
<div class="hsub" style="left:352px;top:403px;width:40.5px">E</div>
<div class="hmm" style="left:352px;top:436px;width:40.5px">[mm]</div>
<div class="hsub" style="left:392.5px;top:403px;width:40.5px">A</div>
<div class="hmm" style="left:392.5px;top:436px;width:40.5px">[mm]</div>
<div class="hsub" style="left:433px;top:403px;width:41px">B</div>
<div class="hmm" style="left:433px;top:436px;width:41px">[mm]</div>
<div class="hx" style="left:474px;top:396.5px;width:146px"><b>A execution</b><br><span class="sm">[mm]</span></div>
<div class="hsub" style="left:474px;top:441px;width:49px">H</div>
<div class="hsub" style="left:523px;top:441px;width:48px">L</div>
<div class="hsub" style="left:571px;top:441px;width:49px">I</div>
<div class="hx" style="left:620px;top:396.5px;width:146px"><b>B execution</b><br><span class="sm">[mm]</span></div>
<div class="hsub" style="left:620px;top:441px;width:49px">H</div>
<div class="hsub" style="left:669px;top:441px;width:48.5px">L</div>
<div class="hsub" style="left:717.5px;top:441px;width:48.5px">I</div>
<div class="hx" style="left:766px;top:396.5px;width:146.5px"><b>AL execution</b><br><span class="sm">[mm]</span></div>
<div class="hsub" style="left:766px;top:441px;width:49.5px">H</div>
<div class="hsub" style="left:815.5px;top:441px;width:48.0px">L</div>
<div class="hsub" style="left:863.5px;top:441px;width:49.0px">I</div>
<div class="hx" style="left:912.5px;top:396.5px;width:146.0px"><b>BL execution</b><br><span class="sm">[mm]</span></div>
<div class="hsub" style="left:912.5px;top:441px;width:48.5px">H</div>
<div class="hsub" style="left:961px;top:441px;width:48.5px">L</div>
<div class="hsub" style="left:1009.5px;top:441px;width:49.0px">I</div>
<div class="hsub" style="left:1058.5px;top:403px;width:41.0px">M</div>
<div class="hmm" style="left:1058.5px;top:436px;width:41.0px">[mm]</div>
<div class="hsub" style="left:1099.5px;top:403px;width:40.5px">S</div>
<div class="hmm" style="left:1099.5px;top:436px;width:40.5px">[mm]</div>
<div class="hsub" style="left:1140px;top:403px;width:40.5px">N</div>
<div class="hmm" style="left:1140px;top:436px;width:40.5px">[mm]</div>
<div class="hsub" style="left:1180.5px;top:403px;width:40.0px">G</div>
<div class="hmm" style="left:1180.5px;top:436px;width:40.0px">[mm]</div>
<svg width="1230" height="895" style="position:absolute;left:0;top:0" shape-rendering="geometricPrecision">
<line x1="20.4" y1="466.4" x2="1221.1" y2="466.4" stroke="#5c6064" stroke-width="1.6"/>
<line x1="20.4" y1="492.4" x2="1221.1" y2="492.4" stroke="#5c6064" stroke-width="1.6"/>
<line x1="20.4" y1="518.4" x2="1221.1" y2="518.4" stroke="#5c6064" stroke-width="1.6"/>
<line x1="20.4" y1="544.4" x2="1221.1" y2="544.4" stroke="#5c6064" stroke-width="1.6"/>
<line x1="20.4" y1="570.4" x2="1221.1" y2="570.4" stroke="#5c6064" stroke-width="1.6"/>
<line x1="20.4" y1="596.4" x2="1221.1" y2="596.4" stroke="#5c6064" stroke-width="1.6"/>
<line x1="20.4" y1="622.4" x2="1221.1" y2="622.4" stroke="#5c6064" stroke-width="1.6"/>
<line x1="20.4" y1="648.4" x2="1221.1" y2="648.4" stroke="#5c6064" stroke-width="1.6"/>
<line x1="20.4" y1="674.4" x2="1221.1" y2="674.4" stroke="#5c6064" stroke-width="1.6"/>
<line x1="20.4" y1="700.4" x2="1221.1" y2="700.4" stroke="#5c6064" stroke-width="1.6"/>
<line x1="20.4" y1="726.4" x2="1221.1" y2="726.4" stroke="#5c6064" stroke-width="1.6"/>
<line x1="20.4" y1="752.4" x2="1221.1" y2="752.4" stroke="#5c6064" stroke-width="1.6"/>
<line x1="20.4" y1="778.4" x2="1221.1" y2="778.4" stroke="#5c6064" stroke-width="1.6"/>
<line x1="20.4" y1="804.4" x2="1221.1" y2="804.4" stroke="#5c6064" stroke-width="1.6"/>
<line x1="20.4" y1="830.4" x2="1221.1" y2="830.4" stroke="#5c6064" stroke-width="1.6"/>
<line x1="20.4" y1="856.4" x2="1221.1" y2="856.4" stroke="#5c6064" stroke-width="1.6"/>
<line x1="20.4" y1="882.4" x2="1221.1" y2="882.4" stroke="#5c6064" stroke-width="1.6"/>
<line x1="20.4" y1="390.7" x2="1221.1" y2="390.7" stroke="#55595d" stroke-width="1.8"/>
<line x1="194.9" y1="434" x2="352.6" y2="434" stroke="#5c6064" stroke-width="1.6"/>
<line x1="473.4" y1="434" x2="620.6" y2="434" stroke="#5c6064" stroke-width="1.6"/>
<line x1="619.4" y1="434" x2="766.6" y2="434" stroke="#5c6064" stroke-width="1.6"/>
<line x1="765.4" y1="434" x2="913.1" y2="434" stroke="#5c6064" stroke-width="1.6"/>
<line x1="911.9" y1="434" x2="1059.1" y2="434" stroke="#5c6064" stroke-width="1.6"/>
<line x1="21" y1="390.09999999999997" x2="21" y2="883.0" stroke="#4a4e52" stroke-width="1.6"/>
<line x1="115" y1="390.09999999999997" x2="115" y2="883.0" stroke="#4a4e52" stroke-width="1.6"/>
<line x1="155.5" y1="390.09999999999997" x2="155.5" y2="883.0" stroke="#4a4e52" stroke-width="1.6"/>
<line x1="195.5" y1="390.09999999999997" x2="195.5" y2="883.0" stroke="#4a4e52" stroke-width="1.6"/>
<line x1="231" y1="433.4" x2="231" y2="883.0" stroke="#4a4e52" stroke-width="1.5"/>
<line x1="271.5" y1="433.4" x2="271.5" y2="883.0" stroke="#4a4e52" stroke-width="1.5"/>
<line x1="311.5" y1="433.4" x2="311.5" y2="883.0" stroke="#4a4e52" stroke-width="1.5"/>
<line x1="352" y1="390.09999999999997" x2="352" y2="883.0" stroke="#4a4e52" stroke-width="1.6"/>
<line x1="392.5" y1="390.09999999999997" x2="392.5" y2="883.0" stroke="#4a4e52" stroke-width="1.6"/>
<line x1="433" y1="390.09999999999997" x2="433" y2="883.0" stroke="#4a4e52" stroke-width="1.6"/>
<line x1="474" y1="390.09999999999997" x2="474" y2="883.0" stroke="#2a2d33" stroke-width="2.4"/>
<line x1="523" y1="433.4" x2="523" y2="883.0" stroke="#4a4e52" stroke-width="1.5"/>
<line x1="571" y1="433.4" x2="571" y2="883.0" stroke="#4a4e52" stroke-width="1.5"/>
<line x1="620" y1="390.09999999999997" x2="620" y2="883.0" stroke="#2a2d33" stroke-width="2.4"/>
<line x1="669" y1="433.4" x2="669" y2="883.0" stroke="#4a4e52" stroke-width="1.5"/>
<line x1="717.5" y1="433.4" x2="717.5" y2="883.0" stroke="#4a4e52" stroke-width="1.5"/>
<line x1="766" y1="390.09999999999997" x2="766" y2="883.0" stroke="#2a2d33" stroke-width="2.4"/>
<line x1="815.5" y1="433.4" x2="815.5" y2="883.0" stroke="#4a4e52" stroke-width="1.5"/>
<line x1="863.5" y1="433.4" x2="863.5" y2="883.0" stroke="#4a4e52" stroke-width="1.5"/>
<line x1="912.5" y1="390.09999999999997" x2="912.5" y2="883.0" stroke="#2a2d33" stroke-width="2.4"/>
<line x1="961" y1="433.4" x2="961" y2="883.0" stroke="#4a4e52" stroke-width="1.5"/>
<line x1="1009.5" y1="433.4" x2="1009.5" y2="883.0" stroke="#4a4e52" stroke-width="1.5"/>
<line x1="1058.5" y1="390.09999999999997" x2="1058.5" y2="883.0" stroke="#2a2d33" stroke-width="2.4"/>
<line x1="1099.5" y1="390.09999999999997" x2="1099.5" y2="883.0" stroke="#4a4e52" stroke-width="1.6"/>
<line x1="1140" y1="390.09999999999997" x2="1140" y2="883.0" stroke="#4a4e52" stroke-width="1.6"/>
<line x1="1180.5" y1="390.09999999999997" x2="1180.5" y2="883.0" stroke="#4a4e52" stroke-width="1.6"/>
<line x1="1220.5" y1="390.09999999999997" x2="1220.5" y2="883.0" stroke="#4a4e52" stroke-width="1.3"/>
</svg>
<div class="foot" style="position:absolute;left:19px;top:891px;font-size:15px;font-weight:bold;white-space:nowrap;line-height:18px;">* Pilot bored hub</div>
</body></html>
